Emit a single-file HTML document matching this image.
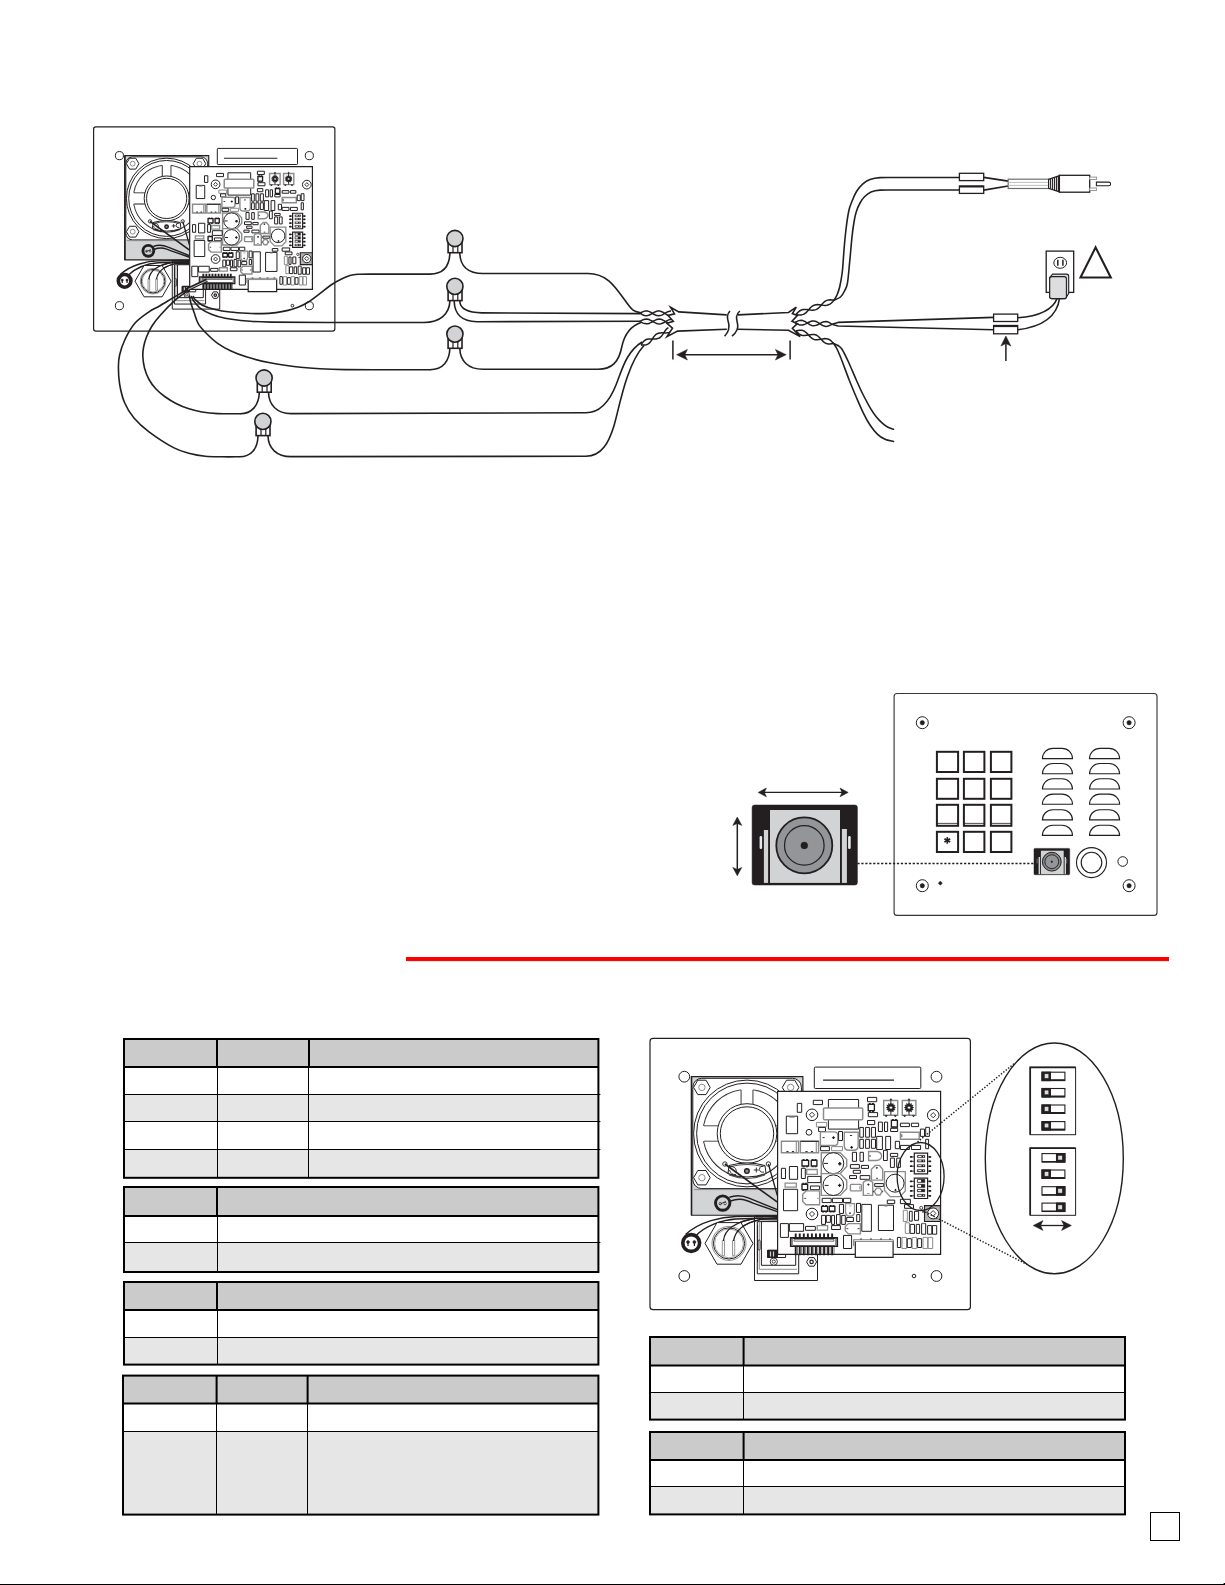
<!DOCTYPE html>
<html><head><meta charset="utf-8">
<style>
html,body{margin:0;padding:0;background:#fff;font-family:"Liberation Sans",sans-serif;}
body{width:1225px;height:1585px;overflow:hidden;position:relative;}
svg{position:absolute;left:0;top:0;}
.ns *{vector-effect:non-scaling-stroke;}
</style></head>
<body>
<svg width="1225" height="1585" viewBox="0 0 1225 1585">
<!-- ===== TABLES ===== -->
<g id="tables" stroke="#000" fill="none">
<rect x="124" y="1039" width="474.4" height="28" fill="#cbcbcb" stroke="none"/>
<rect x="124" y="1094.5" width="474.4" height="27.0" fill="#e6e6e6" stroke="none"/>
<rect x="124" y="1149.5" width="474.4" height="28.299999999999955" fill="#e6e6e6" stroke="none"/>
<path d="M124 1094.5H600.4" stroke-width="1"/>
<path d="M124 1121.5H600.4" stroke-width="1"/>
<path d="M124 1149.5H600.4" stroke-width="1"/>
<path d="M217.5 1067V1177.8" stroke-width="1"/>
<path d="M217 1039V1067" stroke-width="2"/>
<path d="M308.5 1067V1177.8" stroke-width="1"/>
<path d="M309 1039V1067" stroke-width="2"/>
<path d="M124 1067H598.4" stroke-width="2"/>
<rect x="124" y="1039" width="474.4" height="138.79999999999995" stroke-width="2"/>
<rect x="124" y="1187" width="474.4" height="29" fill="#cbcbcb" stroke="none"/>
<rect x="124" y="1242.5" width="474.4" height="29.5" fill="#e6e6e6" stroke="none"/>
<path d="M124 1242.5H600.4" stroke-width="1"/>
<path d="M217.5 1216V1272" stroke-width="1"/>
<path d="M217 1187V1216" stroke-width="2"/>
<path d="M124 1216H598.4" stroke-width="2"/>
<rect x="124" y="1187" width="474.4" height="85" stroke-width="2"/>
<rect x="124" y="1282" width="474.4" height="28" fill="#cbcbcb" stroke="none"/>
<rect x="124" y="1337.5" width="474.4" height="27.09999999999991" fill="#e6e6e6" stroke="none"/>
<path d="M124 1337.5H598.4" stroke-width="1"/>
<path d="M217.5 1310V1364.6" stroke-width="1"/>
<path d="M217 1282V1310" stroke-width="2"/>
<path d="M124 1310H598.4" stroke-width="2"/>
<rect x="124" y="1282" width="474.4" height="82.59999999999991" stroke-width="2"/>
<rect x="123" y="1375.6" width="475.4" height="27.800000000000182" fill="#cbcbcb" stroke="none"/>
<rect x="123" y="1431.5" width="475.4" height="83.09999999999991" fill="#e6e6e6" stroke="none"/>
<path d="M123 1431.5H598.4" stroke-width="1"/>
<path d="M216.5 1403.4V1514.6" stroke-width="1"/>
<path d="M216.6 1375.6V1403.4" stroke-width="2"/>
<path d="M307.5 1403.4V1514.6" stroke-width="1"/>
<path d="M307.6 1375.6V1403.4" stroke-width="2"/>
<path d="M123 1403.4H598.4" stroke-width="2"/>
<rect x="123" y="1375.6" width="475.4" height="139.0" stroke-width="2"/>
<rect x="650" y="1337" width="475" height="28.59999999999991" fill="#cbcbcb" stroke="none"/>
<rect x="650" y="1392.5" width="475" height="27.09999999999991" fill="#e6e6e6" stroke="none"/>
<path d="M650 1392.5H1125" stroke-width="1"/>
<path d="M743.5 1365.6V1419.6" stroke-width="1"/>
<path d="M743.6 1337V1365.6" stroke-width="2"/>
<path d="M650 1365.6H1125" stroke-width="2"/>
<rect x="650" y="1337" width="475" height="82.59999999999991" stroke-width="2"/>
<rect x="650" y="1432" width="475" height="28" fill="#cbcbcb" stroke="none"/>
<rect x="650" y="1486.5" width="475" height="27.90000000000009" fill="#e6e6e6" stroke="none"/>
<path d="M650 1486.5H1125" stroke-width="1"/>
<path d="M743.5 1460V1514.4" stroke-width="1"/>
<path d="M743.6 1432V1460" stroke-width="2"/>
<path d="M650 1460H1125" stroke-width="2"/>
<rect x="650" y="1432" width="475" height="82.40000000000009" stroke-width="2"/>
</g>
<!-- red rule -->
<rect x="406" y="957" width="763" height="4" fill="#ff0000"/>
<rect x="407" y="960.6" width="762" height="0.7" fill="#a33" opacity="0.6"/>
<!-- page number box -->
<rect x="1150.5" y="1512.5" width="29" height="28" fill="#fff" stroke="#000" stroke-width="1"/>
<!-- bottom line -->
<rect x="0" y="1584" width="1225" height="1" fill="#000"/>
<rect x="1223.6" y="1583" width="1.4" height="2" fill="#000"/>
<g transform="translate(93.6,126.8) scale(0.753) translate(-650,-1038.4)" class="ns">
<rect x="650.0" y="1038.4" width="320.4" height="271.3" fill="#fff" stroke="#231f20" stroke-width="1.2" rx="3"/>
<circle cx="684.3" cy="1076.7" r="5.4" fill="#fff" stroke="#231f20" stroke-width="1"/>
<circle cx="936.5" cy="1076.7" r="5.4" fill="#fff" stroke="#231f20" stroke-width="1"/>
<circle cx="684.3" cy="1276.0" r="5.4" fill="#fff" stroke="#231f20" stroke-width="1"/>
<circle cx="936.5" cy="1276.0" r="5.4" fill="#fff" stroke="#231f20" stroke-width="1"/>
<circle cx="914.0" cy="1276.0" r="1.8" fill="#fff" stroke="#231f20" stroke-width="1"/>
<rect x="814.3" y="1067.1" width="106.5" height="21.4" fill="#fff" stroke="#231f20" stroke-width="1" rx="1"/>
<path d="M823.1 1080.1H894" fill="none" stroke="#231f20" stroke-width="1.1" />
<rect x="691.5" y="1076.6" width="111.4" height="138.6" fill="#d3d4d5" stroke="#231f20" stroke-width="1.15"/>
<path d="M691.5 1076.6V1215.2" fill="none" stroke="#231f20" stroke-width="1.5" />
<rect x="692.8" y="1078.3" width="108.6" height="110.3" fill="#fff" stroke="#231f20" stroke-width="1" rx="9"/>
<path d="M694 1189.6H801" fill="none" stroke="#8a8c8e" stroke-width="1" />
<circle cx="747.0" cy="1133.5" r="53.4" fill="#fff" stroke="#231f20" stroke-width="1"/>
<circle cx="747.0" cy="1133.5" r="50.4" fill="#fff" stroke="#231f20" stroke-width="1"/>
<path d="M740.4 1090.5A43.5 43.5 0 0 0 704.3 1125.2L720.3 1125.2A28 28 0 0 1 740.4 1106.3Z" fill="#fff" stroke="#231f20" stroke-width="2.2" stroke-linejoin="round"/>
<path d="M740.4 1090.5A43.5 43.5 0 0 0 704.3 1125.2L720.3 1125.2A28 28 0 0 1 740.4 1106.3Z" fill="#fff" stroke="#fff" stroke-width="0.4" stroke-linejoin="round"/>
<path d="M740.4 1176.5A43.5 43.5 0 0 1 704.3 1141.8L720.3 1141.8A28 28 0 0 0 740.4 1160.7Z" fill="#fff" stroke="#231f20" stroke-width="2.2" stroke-linejoin="round"/>
<path d="M740.4 1176.5A43.5 43.5 0 0 1 704.3 1141.8L720.3 1141.8A28 28 0 0 0 740.4 1160.7Z" fill="#fff" stroke="#fff" stroke-width="0.4" stroke-linejoin="round"/>
<path d="M753.6 1090.5A43.5 43.5 0 0 1 789.7 1125.2L773.7 1125.2A28 28 0 0 0 753.6 1106.3Z" fill="#fff" stroke="#231f20" stroke-width="2.2" stroke-linejoin="round"/>
<path d="M753.6 1090.5A43.5 43.5 0 0 1 789.7 1125.2L773.7 1125.2A28 28 0 0 0 753.6 1106.3Z" fill="#fff" stroke="#fff" stroke-width="0.4" stroke-linejoin="round"/>
<path d="M753.6 1176.5A43.5 43.5 0 0 0 789.7 1141.8L773.7 1141.8A28 28 0 0 1 753.6 1160.7Z" fill="#fff" stroke="#231f20" stroke-width="2.2" stroke-linejoin="round"/>
<path d="M753.6 1176.5A43.5 43.5 0 0 0 789.7 1141.8L773.7 1141.8A28 28 0 0 1 753.6 1160.7Z" fill="#fff" stroke="#fff" stroke-width="0.4" stroke-linejoin="round"/>
<circle cx="747.0" cy="1133.5" r="29.8" fill="#fff" stroke="#231f20" stroke-width="1"/>
<circle cx="747.0" cy="1133.5" r="26.7" fill="#fff" stroke="#231f20" stroke-width="1"/>
<path d="M710.2 1087.4L706.0 1094.6L697.8 1094.6L693.6 1087.4L697.8 1080.2L706.0 1080.2Z" fill="#fff" stroke="#231f20" stroke-width="1" />
<circle cx="701.9" cy="1087.4" r="3.2" fill="#fff" stroke="#8a8c8e" stroke-width="1"/>
<path d="M798.9 1087.4L794.8 1094.6L786.5 1094.6L782.3 1087.4L786.5 1080.2L794.8 1080.2Z" fill="#fff" stroke="#231f20" stroke-width="1" />
<circle cx="790.6" cy="1087.4" r="3.2" fill="#fff" stroke="#8a8c8e" stroke-width="1"/>
<path d="M710.2 1177.7L706.0 1184.9L697.8 1184.9L693.6 1177.7L697.8 1170.5L706.0 1170.5Z" fill="#fff" stroke="#231f20" stroke-width="1" />
<circle cx="701.9" cy="1177.7" r="3.2" fill="#fff" stroke="#8a8c8e" stroke-width="1"/>
<path d="M729 1165.5Q747 1160.5 765 1165.5L766 1173.5Q747 1180.5 728 1173.5Z" fill="#fff" stroke="#231f20" stroke-width="1" />
<path d="M731 1166.5Q747 1162.5 763 1166.5" fill="none" stroke="#231f20" stroke-width="0.8" />
<path d="M729 1175Q747 1182 765 1175" fill="none" stroke="#231f20" stroke-width="0.8" />
<circle cx="724.9" cy="1164.0" r="2.2" fill="#fff" stroke="#231f20" stroke-width="0.9"/>
<circle cx="768.4" cy="1164.0" r="2.2" fill="#fff" stroke="#231f20" stroke-width="0.9"/>
<circle cx="746.9" cy="1171.1" r="2.3" fill="#8a8c8e" stroke="#231f20" stroke-width="1.4"/>
<path d="M753.8 1170H758.8M756.3 1167.5V1172.5" fill="none" stroke="#231f20" stroke-width="0.9" />
<path d="M729 1166.5Q735.5 1166 736.3 1170.5V1173M729.5 1170Q731 1175 736 1174.5" fill="none" stroke="#231f20" stroke-width="0.9" />
<path d="M764.5 1166Q759.5 1165.5 759.5 1169.5Q760 1173 764 1172" fill="none" stroke="#231f20" stroke-width="0.9" />
<path d="M724.9 1164L777.4 1202.2" fill="none" stroke="#231f20" stroke-width="1.6" />
<path d="M768.4 1164L777.4 1195.7" fill="none" stroke="#231f20" stroke-width="1.3" />
<path d="M729.4 1197.3C738 1194 744 1196 749 1198.2L777.4 1209.6" fill="none" stroke="#231f20" stroke-width="1.45" />
<path d="M730.6 1201C740 1197.5 746 1200 753.1 1203.1L777.4 1211.6" fill="none" stroke="#231f20" stroke-width="1.45" />
<circle cx="722.7" cy="1203.1" r="7.2" fill="#d3d4d5" stroke="#231f20" stroke-width="2.9"/>
<circle cx="720.3" cy="1203.6" r="1.2" fill="#fff" stroke="#231f20" stroke-width="0.8"/>
<circle cx="725.1" cy="1203.6" r="1.2" fill="#fff" stroke="#231f20" stroke-width="0.8"/>
<path d="M719.5 1204.5L725.8 1201.3" fill="none" stroke="#231f20" stroke-width="0.8" />
<rect x="754.5" y="1215.7" width="63.0" height="64.8" fill="#fff" stroke="#231f20" stroke-width="1"/>
<rect x="757.3" y="1221.6" width="41.4" height="52.2" fill="#fff" stroke="#231f20" stroke-width="1"/>
<path d="M759.3 1221.6V1269.3H797" fill="none" stroke="#8a8c8e" stroke-width="1" />
<rect x="761.4" y="1221.6" width="34.3" height="43.7" fill="#fff" stroke="#231f20" stroke-width="1"/>
<path d="M757.5 1225V1262" fill="none" stroke="#231f20" stroke-width="0.9" />
<rect x="758.0" y="1240.0" width="2.2" height="10.0" fill="#d3d4d5" stroke="#231f20" stroke-width="0.8" rx="1"/>
<path d="M685.5 1234.5C700 1221 722 1216.8 736 1216.5L777 1215.8" fill="none" stroke="#231f20" stroke-width="1.4" />
<path d="M695.5 1236C706 1225.5 722 1220 736 1219L777 1217.6" fill="none" stroke="#231f20" stroke-width="1.4" />
<path d="M723.4 1241C724.5 1229 736 1221.5 757 1218.2L777 1218.8" fill="none" stroke="#231f20" stroke-width="1.25" />
<path d="M733.6 1241C735 1229 746 1222.8 760 1219.6L777 1220" fill="none" stroke="#231f20" stroke-width="1.25" />
<path d="M756 1216.3H777.4M762 1218.6H777.4" fill="none" stroke="#231f20" stroke-width="1.3" />
<circle cx="691.2" cy="1243.0" r="8.4" fill="#fff" stroke="#231f20" stroke-width="3.6"/>
<circle cx="688.0" cy="1242.0" r="1.5" fill="#231f20" stroke="#231f20" stroke-width="0.5"/>
<circle cx="694.4" cy="1242.0" r="1.5" fill="#231f20" stroke="#231f20" stroke-width="0.5"/>
<path d="M688 1242V1246M694.4 1242V1246" fill="none" stroke="#231f20" stroke-width="1.2" />
<path d="M753.0 1243.4L741.0 1264.2L717.0 1264.2L705.0 1243.4L717.0 1222.6L741.0 1222.6Z" fill="#fff" stroke="#231f20" stroke-width="1" />
<circle cx="729.0" cy="1243.4" r="17.0" fill="#fff" stroke="#8a8c8e" stroke-width="1"/>
<circle cx="729.0" cy="1243.4" r="15.6" fill="#fff" stroke="#231f20" stroke-width="1"/>
<circle cx="729.0" cy="1243.4" r="14.4" fill="#fff" stroke="#8a8c8e" stroke-width="0.8"/>
<path d="M722.3 1255.6V1240.5Q723.4 1239 724.5 1240.5V1255.6Z" fill="#fff" stroke="#8a8c8e" stroke-width="0.9" />
<path d="M732.5 1255.6V1240.5Q733.6 1239 734.7 1240.5V1255.6Z" fill="#fff" stroke="#8a8c8e" stroke-width="0.9" />
<path d="M723.4 1241C724.5 1229 736 1221.5 757 1218.2" fill="none" stroke="#231f20" stroke-width="1.25" />
<path d="M733.6 1241C735 1229 746 1222.8 760 1219.6" fill="none" stroke="#231f20" stroke-width="1.25" />
<rect x="767.7" y="1250.3" width="17.9" height="7.2" fill="#fff" stroke="#231f20" stroke-width="1"/>
<rect x="767.7" y="1250.3" width="9.7" height="7.2" fill="#231f20" stroke="#231f20" stroke-width="1"/>
<path d="M770.5 1251.5V1256.5M773.5 1251.5V1256.5" fill="none" stroke="#d3d4d5" stroke-width="1.2" />
<circle cx="773.8" cy="1261.6" r="3.6" fill="#fff" stroke="#231f20" stroke-width="0.9"/>
<circle cx="773.8" cy="1261.6" r="1.6" fill="#fff" stroke="#231f20" stroke-width="0.8"/>
<path d="M816.6 1261.9L814.1 1266.2L809.1 1266.2L806.6 1261.9L809.1 1257.6L814.1 1257.6Z" fill="#fff" stroke="#231f20" stroke-width="1" />
<circle cx="811.6" cy="1261.9" r="1.7" fill="#fff" stroke="#231f20" stroke-width="1.2"/>
<rect x="777.6" y="1091.4" width="163.0" height="163.0" fill="#fff" stroke="#231f20" stroke-width="1.2"/>
<rect x="797.3" y="1103.4" width="4.4" height="8.9" fill="#fff" stroke="#231f20" stroke-width="1"/>
<rect x="813.3" y="1100.3" width="9.2" height="4.3" fill="#fff" stroke="#231f20" stroke-width="1"/>
<rect x="828.4" y="1099.5" width="30.2" height="29.6" fill="#fff" stroke="#231f20" stroke-width="1"/>
<rect x="823.5" y="1107.9" width="39.2" height="11.8" fill="#fff" stroke="#8a8c8e" stroke-width="1.5" rx="1"/>
<circle cx="812.0" cy="1114.8" r="5.8" fill="#fff" stroke="#231f20" stroke-width="1"/>
<path d="M809.4 1114.8L812.0 1112.2L814.6 1114.8L812.0 1117.4Z" fill="#fff" stroke="#231f20" stroke-width="0.9" />
<rect x="786.3" y="1116.2" width="11.3" height="17.5" fill="#fff" stroke="#231f20" stroke-width="1"/>
<path d="M789.5 1117.2H794.5" fill="none" stroke="#8a8c8e" stroke-width="1.2" />
<circle cx="809.0" cy="1132.3" r="2.9" fill="#fff" stroke="#231f20" stroke-width="1"/>
<rect x="816.4" y="1122.4" width="10.3" height="4.4" fill="#fff" stroke="#8a8c8e" stroke-width="1"/>
<rect x="818.6" y="1127.4" width="6.9" height="4.1" fill="#fff" stroke="#231f20" stroke-width="1"/>
<rect x="781.4" y="1141.3" width="17.2" height="11.5" fill="#fff" stroke="#8a8c8e" stroke-width="1.4"/>
<path d="M796.3 1141.3V1152.8" fill="none" stroke="#8a8c8e" stroke-width="1.1" />
<path d="M786.4 1151.6h2.2M791.9 1151.6h2.2" fill="none" stroke="#231f20" stroke-width="1.0" />
<rect x="800.4" y="1141.3" width="18.2" height="11.5" fill="#fff" stroke="#8a8c8e" stroke-width="1.4"/>
<path d="M816.3 1141.3V1152.8" fill="none" stroke="#8a8c8e" stroke-width="1.1" />
<path d="M805.4 1151.6h2.2M810.9 1151.6h2.2" fill="none" stroke="#231f20" stroke-width="1.0" />
<path d="M800.4 1141.3H818.6" fill="none" stroke="#231f20" stroke-width="1" />
<path d="M820.4 1131.9H834.3Q837.8 1131.9 837.8 1135.4V1141.9Q837.8 1145.4 834.3 1145.4H820.4Z" fill="#fff" stroke="#8a8c8e" stroke-width="1.4" />
<path d="M822.5 1137.6H824.7" fill="none" stroke="#231f20" stroke-width="0.9" />
<path d="M832.1 1137.6H834.9M833.5 1136.2V1139.0" fill="none" stroke="#231f20" stroke-width="1.1" />
<rect x="838.6" y="1131.5" width="3.9" height="9.0" fill="#fff" stroke="#231f20" stroke-width="1"/>
<path d="M844.3 1132.3H858.2V1145.5Q858.2 1150.3 853.5 1150.3H849Q844.3 1150.3 844.3 1145.5Z" fill="#fff" stroke="#8a8c8e" stroke-width="1.4" />
<path d="M849.9 1135.5H852.1" fill="none" stroke="#231f20" stroke-width="0.9" />
<path d="M850.3 1147.4H852.9M851.6 1146.1V1148.7" fill="none" stroke="#231f20" stroke-width="1.1" />
<rect x="820.6" y="1146.6" width="8.8" height="4.1" fill="#fff" stroke="#231f20" stroke-width="1"/>
<rect x="831.6" y="1146.6" width="10.9" height="4.1" fill="#fff" stroke="#8a8c8e" stroke-width="1"/>
<rect x="859.8" y="1127.4" width="3.6" height="9.8" fill="#fff" stroke="#231f20" stroke-width="1"/>
<rect x="859.8" y="1139.3" width="3.6" height="9.0" fill="#fff" stroke="#231f20" stroke-width="1"/>
<rect x="865.6" y="1127.4" width="3.8" height="9.8" fill="#fff" stroke="#231f20" stroke-width="1"/>
<rect x="865.6" y="1139.3" width="3.8" height="9.0" fill="#fff" stroke="#231f20" stroke-width="1"/>
<rect x="871.4" y="1127.4" width="4.1" height="9.8" fill="#fff" stroke="#231f20" stroke-width="1"/>
<rect x="871.4" y="1139.3" width="4.1" height="9.0" fill="#fff" stroke="#231f20" stroke-width="1"/>
<rect x="867.5" y="1097.4" width="9.2" height="4.3" fill="#fff" stroke="#231f20" stroke-width="1"/>
<rect x="868.2" y="1104.4" width="6.2" height="6.2" fill="#fff" stroke="#231f20" stroke-width="1.35"/>
<path d="M868.8 1103.6h2M868.8 1111.4h2" fill="none" stroke="#231f20" stroke-width="1.1" />
<path d="M871.9 1103.6h2M871.9 1111.4h2" fill="none" stroke="#231f20" stroke-width="1.1" />
<rect x="868.3" y="1112.6" width="9.3" height="4.1" fill="#fff" stroke="#231f20" stroke-width="1"/>
<rect x="867.5" y="1120.5" width="7.2" height="4.1" fill="#fff" stroke="#231f20" stroke-width="1"/>
<rect x="883.7" y="1100.5" width="14.0" height="14.7" fill="#fff" stroke="#8a8c8e" stroke-width="1.4"/>
<path d="M895.6 1107.6L894.1 1108.5L895.0 1109.9L893.2 1109.9L893.2 1111.7L891.8 1110.8L890.9 1112.3L890.0 1110.8L888.5 1111.7L888.6 1109.9L886.8 1109.9L887.7 1108.5L886.2 1107.6L887.7 1106.7L886.8 1105.2L888.6 1105.3L888.5 1103.5L890.0 1104.4L890.9 1102.9L891.8 1104.4L893.2 1103.5L893.2 1105.3L895.0 1105.2L894.1 1106.7Z" fill="#231f20" stroke="#231f20" stroke-width="0.6" />
<circle cx="890.9" cy="1107.6" r="1.6" fill="#fff" stroke="#231f20" stroke-width="0.6"/>
<path d="M890.9 1106.6V1099.6M889.7 1108.8L893.4 1111.4" fill="none" stroke="#231f20" stroke-width="0.9" />
<circle cx="890.9" cy="1099.4" r="0.7" fill="#231f20" stroke="#231f20" stroke-width="0.5"/>
<path d="M890.9 1111.6V1115.2" fill="none" stroke="#231f20" stroke-width="0.9" />
<path d="M884.9 1115.4l1.2 1.6l1.2 -1.6ZM894.1 1115.4l1.2 1.6l1.2 -1.6Z" fill="#231f20" stroke="#231f20" stroke-width="0.5" />
<rect x="902.3" y="1100.5" width="13.6" height="14.7" fill="#fff" stroke="#8a8c8e" stroke-width="1.4"/>
<path d="M913.7 1107.6L912.2 1108.5L913.1 1109.9L911.3 1109.9L911.4 1111.7L909.9 1110.8L909.0 1112.3L908.1 1110.8L906.6 1111.7L906.7 1109.9L904.9 1109.9L905.8 1108.5L904.3 1107.6L905.8 1106.7L904.9 1105.2L906.7 1105.3L906.6 1103.5L908.1 1104.4L909.0 1102.9L909.9 1104.4L911.4 1103.5L911.3 1105.3L913.1 1105.2L912.2 1106.7Z" fill="#231f20" stroke="#231f20" stroke-width="0.6" />
<circle cx="909.0" cy="1107.6" r="1.6" fill="#fff" stroke="#231f20" stroke-width="0.6"/>
<path d="M909.0 1106.6V1099.6M907.8 1108.8L911.5 1111.4" fill="none" stroke="#231f20" stroke-width="0.9" />
<circle cx="909.0" cy="1099.4" r="0.7" fill="#231f20" stroke="#231f20" stroke-width="0.5"/>
<path d="M909.0 1111.6V1115.2" fill="none" stroke="#231f20" stroke-width="0.9" />
<path d="M903.5 1115.4l1.2 1.6l1.2 -1.6ZM912.3 1115.4l1.2 1.6l1.2 -1.6Z" fill="#231f20" stroke="#231f20" stroke-width="0.5" />
<circle cx="933.2" cy="1115.2" r="5.8" fill="#fff" stroke="#231f20" stroke-width="1"/>
<path d="M930.6 1115.2L933.2 1112.6L935.8 1115.2L933.2 1117.8Z" fill="#fff" stroke="#231f20" stroke-width="0.9" />
<rect x="878.4" y="1122.1" width="4.0" height="9.4" fill="#fff" stroke="#231f20" stroke-width="1"/>
<rect x="884.5" y="1122.1" width="3.1" height="9.4" fill="#fff" stroke="#231f20" stroke-width="1"/>
<rect x="891.4" y="1120.4" width="6.0" height="6.6" fill="#fff" stroke="#231f20" stroke-width="1.35"/>
<path d="M891.9 1119.6h2M891.9 1127.8h2" fill="none" stroke="#231f20" stroke-width="1.1" />
<path d="M894.9 1119.6h2M894.9 1127.8h2" fill="none" stroke="#231f20" stroke-width="1.1" />
<rect x="890.6" y="1128.3" width="7.1" height="3.2" fill="#fff" stroke="#231f20" stroke-width="1"/>
<rect x="900.4" y="1123.2" width="9.0" height="3.4" fill="#fff" stroke="#231f20" stroke-width="1"/>
<rect x="911.4" y="1123.2" width="7.2" height="3.4" fill="#fff" stroke="#231f20" stroke-width="1"/>
<rect x="900.4" y="1132.3" width="18.8" height="7.0" fill="#fff" stroke="#8a8c8e" stroke-width="1.4"/>
<path d="M901.8 1134.2V1137.2" fill="none" stroke="#231f20" stroke-width="0.8" />
<rect x="920.4" y="1129.1" width="4.1" height="7.3" fill="#fff" stroke="#231f20" stroke-width="1"/>
<rect x="925.7" y="1127.3" width="3.7" height="9.1" fill="#fff" stroke="#231f20" stroke-width="1"/>
<rect x="925.7" y="1139.3" width="2.9" height="9.4" fill="#fff" stroke="#231f20" stroke-width="1"/>
<rect x="876.7" y="1136.4" width="5.7" height="13.1" fill="#fff" stroke="#231f20" stroke-width="1"/>
<rect x="885.7" y="1136.4" width="4.9" height="13.1" fill="#fff" stroke="#231f20" stroke-width="1"/>
<rect x="895.3" y="1141.3" width="4.3" height="7.4" fill="#fff" stroke="#231f20" stroke-width="1"/>
<rect x="900.4" y="1145.4" width="9.0" height="4.1" fill="#fff" stroke="#231f20" stroke-width="1"/>
<rect x="911.4" y="1145.4" width="9.2" height="4.1" fill="#fff" stroke="#231f20" stroke-width="1"/>
<path d="M868.6 1151.5H877Q881.6 1152.5 881.6 1156Q881.6 1159.5 877 1160.5H868.6Z" fill="#fff" stroke="#8a8c8e" stroke-width="1.4" />
<path d="M869 1156H871" fill="none" stroke="#231f20" stroke-width="0.8" />
<rect x="883.5" y="1150.3" width="3.8" height="10.2" fill="#fff" stroke="#231f20" stroke-width="1"/>
<rect x="890.4" y="1153.4" width="7.3" height="3.0" fill="#fff" stroke="#231f20" stroke-width="1"/>
<rect x="890.4" y="1158.1" width="4.0" height="9.3" fill="#fff" stroke="#231f20" stroke-width="1"/>
<rect x="896.7" y="1158.1" width="3.7" height="9.3" fill="#fff" stroke="#231f20" stroke-width="1"/>
<rect x="860.0" y="1152.3" width="3.4" height="9.0" fill="#fff" stroke="#231f20" stroke-width="1"/>
<rect x="852.4" y="1152.3" width="4.1" height="9.0" fill="#fff" stroke="#231f20" stroke-width="1"/>
<rect x="850.4" y="1164.6" width="9.0" height="3.7" fill="#fff" stroke="#231f20" stroke-width="1"/>
<rect x="861.4" y="1165.4" width="7.1" height="3.0" fill="#fff" stroke="#231f20" stroke-width="1"/>
<rect x="853.3" y="1170.3" width="7.1" height="3.0" fill="#fff" stroke="#231f20" stroke-width="1"/>
<rect x="849.6" y="1175.6" width="6.9" height="2.9" fill="#fff" stroke="#231f20" stroke-width="1"/>
<rect x="860.2" y="1175.6" width="9.6" height="3.7" fill="#fff" stroke="#231f20" stroke-width="1"/>
<path d="M875.3 1165.4H879.4L882.7 1169.3V1180.1H871.4V1169.3Z" fill="#fff" stroke="#8a8c8e" stroke-width="1.4" />
<path d="M875.8 1167.8H877.8M876.8 1166.8V1168.8" fill="none" stroke="#231f20" stroke-width="0.8" />
<path d="M876.0 1178.3H878.0" fill="none" stroke="#231f20" stroke-width="0.8" />
<path d="M821.3 1152.8H840.2L846.7 1159.3V1166.6L840.2 1173.6H821.3Z" fill="#fff" stroke="#8a8c8e" stroke-width="1.4" />
<circle cx="833.3" cy="1163.2" r="10.5" fill="#fff" stroke="#231f20" stroke-width="1"/>
<path d="M823.8 1163.4H828.0" fill="none" stroke="#231f20" stroke-width="1.0" />
<path d="M838.1 1163.8H841.5M839.8 1162.1V1165.5" fill="none" stroke="#231f20" stroke-width="1.5" />
<path d="M821.3 1173.6H840.2L846.7 1180.4V1188.6L840.2 1195.4H821.3Z" fill="#fff" stroke="#8a8c8e" stroke-width="1.4" />
<circle cx="833.3" cy="1185.2" r="10.3" fill="#fff" stroke="#231f20" stroke-width="1"/>
<path d="M824.6 1185.4H828.6" fill="none" stroke="#231f20" stroke-width="1.0" />
<path d="M837.9 1185.4H841.3M839.6 1183.7V1187.1" fill="none" stroke="#231f20" stroke-width="1.2" />
<rect x="802.0" y="1160.3" width="6.6" height="5.7" fill="#fff" stroke="#231f20" stroke-width="1.35"/>
<path d="M802.6 1159.5h2M802.6 1166.8h2" fill="none" stroke="#231f20" stroke-width="1.1" />
<path d="M806.0 1159.5h2M806.0 1166.8h2" fill="none" stroke="#231f20" stroke-width="1.1" />
<rect x="811.3" y="1160.3" width="5.6" height="5.7" fill="#fff" stroke="#231f20" stroke-width="1.35"/>
<path d="M811.7 1159.5h2M811.7 1166.8h2" fill="none" stroke="#231f20" stroke-width="1.1" />
<path d="M814.5 1159.5h2M814.5 1166.8h2" fill="none" stroke="#231f20" stroke-width="1.1" />
<rect x="781.4" y="1168.3" width="4.1" height="10.2" fill="#fff" stroke="#231f20" stroke-width="1"/>
<rect x="789.4" y="1166.5" width="8.2" height="12.8" fill="#fff" stroke="#231f20" stroke-width="1"/>
<rect x="801.4" y="1168.3" width="3.9" height="10.2" fill="#fff" stroke="#231f20" stroke-width="1"/>
<rect x="806.7" y="1169.5" width="10.6" height="4.9" fill="#fff" stroke="#8a8c8e" stroke-width="1.3"/>
<rect x="807.7" y="1176.4" width="13.1" height="6.2" fill="#fff" stroke="#231f20" stroke-width="1"/>
<rect x="785.1" y="1183.2" width="11.2" height="4.0" fill="#fff" stroke="#8a8c8e" stroke-width="1.3"/>
<rect x="783.5" y="1189.3" width="14.1" height="21.4" fill="#fff" stroke="#231f20" stroke-width="1"/>
<rect x="802.0" y="1184.2" width="5.6" height="5.4" fill="#fff" stroke="#231f20" stroke-width="1.35"/>
<path d="M802.4 1183.4h2M802.4 1190.4h2" fill="none" stroke="#231f20" stroke-width="1.1" />
<path d="M805.2 1183.4h2M805.2 1190.4h2" fill="none" stroke="#231f20" stroke-width="1.1" />
<rect x="810.4" y="1186.0" width="9.2" height="3.7" fill="#fff" stroke="#231f20" stroke-width="1"/>
<path d="M806 1190.9H819.6V1204.8H806L802.7 1201.5V1194.2Z" fill="#fff" stroke="#8a8c8e" stroke-width="1.4" />
<path d="M804.2 1198.4H806.2" fill="none" stroke="#231f20" stroke-width="0.8" />
<path d="M817 1198.4h1.6" fill="none" stroke="#8a8c8e" stroke-width="0.9" />
<rect x="822.2" y="1198.3" width="9.0" height="4.3" fill="#fff" stroke="#231f20" stroke-width="1"/>
<rect x="832.4" y="1198.3" width="10.1" height="4.3" fill="#fff" stroke="#231f20" stroke-width="1"/>
<rect x="843.5" y="1198.3" width="7.3" height="4.3" fill="#fff" stroke="#231f20" stroke-width="1"/>
<rect x="821.6" y="1206.3" width="6.0" height="4.9" fill="#fff" stroke="#231f20" stroke-width="1.35"/>
<path d="M822.1 1205.5h2M822.1 1212.0h2" fill="none" stroke="#231f20" stroke-width="1.1" />
<path d="M825.1 1205.5h2M825.1 1212.0h2" fill="none" stroke="#231f20" stroke-width="1.1" />
<rect x="829.3" y="1206.3" width="5.6" height="4.9" fill="#fff" stroke="#231f20" stroke-width="1.35"/>
<path d="M829.7 1205.5h2M829.7 1212.0h2" fill="none" stroke="#231f20" stroke-width="1.1" />
<path d="M832.5 1205.5h2M832.5 1212.0h2" fill="none" stroke="#231f20" stroke-width="1.1" />
<rect x="839.4" y="1204.4" width="4.1" height="9.0" fill="#fff" stroke="#231f20" stroke-width="1"/>
<path d="M845.5 1203.6H854.5V1211.5Q854.5 1216.2 850 1216.2Q845.5 1216.2 845.5 1211.5Z" fill="#fff" stroke="#8a8c8e" stroke-width="1.3" />
<path d="M849 1206h2.5" fill="none" stroke="#8a8c8e" stroke-width="0.8" />
<path d="M849.1 1213.2H850.9M850.0 1212.3V1214.1" fill="none" stroke="#231f20" stroke-width="0.8" />
<rect x="856.5" y="1203.4" width="4.1" height="9.0" fill="#fff" stroke="#231f20" stroke-width="1"/>
<rect x="856.7" y="1214.6" width="3.1" height="6.9" fill="#fff" stroke="#231f20" stroke-width="1"/>
<circle cx="812.0" cy="1214.0" r="5.8" fill="#fff" stroke="#231f20" stroke-width="1"/>
<path d="M809.4 1214.0L812.0 1211.4L814.6 1214.0L812.0 1216.6Z" fill="#fff" stroke="#231f20" stroke-width="0.9" />
<rect x="821.6" y="1215.4" width="3.9" height="9.0" fill="#fff" stroke="#231f20" stroke-width="1"/>
<rect x="826.3" y="1215.4" width="4.1" height="6.9" fill="#fff" stroke="#231f20" stroke-width="1"/>
<rect x="831.6" y="1215.4" width="2.9" height="9.0" fill="#fff" stroke="#231f20" stroke-width="1"/>
<rect x="836.5" y="1214.6" width="3.7" height="9.8" fill="#fff" stroke="#231f20" stroke-width="1"/>
<rect x="841.7" y="1215.4" width="3.6" height="9.0" fill="#fff" stroke="#231f20" stroke-width="1"/>
<rect x="846.7" y="1217.4" width="6.7" height="4.1" fill="#fff" stroke="#231f20" stroke-width="1"/>
<rect x="831.6" y="1225.6" width="8.8" height="3.9" fill="#fff" stroke="#231f20" stroke-width="1"/>
<path d="M848.5 1223.6H860.4V1233.9H848.5L845.3 1230.8V1226.5Z" fill="#fff" stroke="#8a8c8e" stroke-width="1.4" />
<path d="M846.3 1228.6H848.3" fill="none" stroke="#231f20" stroke-width="0.8" />
<path d="M857.5 1228.6H859.5" fill="none" stroke="#231f20" stroke-width="0.8" />
<rect x="780.4" y="1223.6" width="8.0" height="13.8" fill="#fff" stroke="#231f20" stroke-width="1"/>
<rect x="789.4" y="1223.6" width="14.2" height="7.7" fill="#fff" stroke="#231f20" stroke-width="1"/>
<rect x="805.5" y="1226.4" width="9.8" height="3.9" fill="#fff" stroke="#231f20" stroke-width="1"/>
<rect x="817.2" y="1225.6" width="10.4" height="4.5" fill="#fff" stroke="#8a8c8e" stroke-width="1.3"/>
<path d="M795.70 1233.6V1237.4M795.70 1246.8V1255.2" fill="none" stroke="#231f20" stroke-width="1.9" />
<path d="M797.60 1246.8V1254.4" fill="none" stroke="#231f20" stroke-width="0.6" />
<path d="M799.75 1233.6V1237.4M799.75 1246.8V1255.2" fill="none" stroke="#231f20" stroke-width="1.9" />
<path d="M801.65 1246.8V1254.4" fill="none" stroke="#231f20" stroke-width="0.6" />
<path d="M803.80 1233.6V1237.4M803.80 1246.8V1255.2" fill="none" stroke="#231f20" stroke-width="1.9" />
<path d="M805.70 1246.8V1254.4" fill="none" stroke="#231f20" stroke-width="0.6" />
<path d="M807.85 1233.6V1237.4M807.85 1246.8V1255.2" fill="none" stroke="#231f20" stroke-width="1.9" />
<path d="M809.75 1246.8V1254.4" fill="none" stroke="#231f20" stroke-width="0.6" />
<path d="M811.90 1233.6V1237.4M811.90 1246.8V1255.2" fill="none" stroke="#231f20" stroke-width="1.9" />
<path d="M813.80 1246.8V1254.4" fill="none" stroke="#231f20" stroke-width="0.6" />
<path d="M815.95 1233.6V1237.4M815.95 1246.8V1255.2" fill="none" stroke="#231f20" stroke-width="1.9" />
<path d="M817.85 1246.8V1254.4" fill="none" stroke="#231f20" stroke-width="0.6" />
<path d="M820.00 1233.6V1237.4M820.00 1246.8V1255.2" fill="none" stroke="#231f20" stroke-width="1.9" />
<path d="M821.90 1246.8V1254.4" fill="none" stroke="#231f20" stroke-width="0.6" />
<path d="M824.05 1233.6V1237.4M824.05 1246.8V1255.2" fill="none" stroke="#231f20" stroke-width="1.9" />
<path d="M825.95 1246.8V1254.4" fill="none" stroke="#231f20" stroke-width="0.6" />
<path d="M828.10 1233.6V1237.4M828.10 1246.8V1255.2" fill="none" stroke="#231f20" stroke-width="1.9" />
<path d="M830.00 1246.8V1254.4" fill="none" stroke="#231f20" stroke-width="0.6" />
<path d="M832.15 1233.6V1237.4M832.15 1246.8V1255.2" fill="none" stroke="#231f20" stroke-width="1.9" />
<path d="M834.05 1246.8V1254.4" fill="none" stroke="#231f20" stroke-width="0.6" />
<rect x="790.8" y="1238.0" width="46.4" height="8.2" fill="#fff" stroke="#231f20" stroke-width="1.8"/>
<rect x="794.0" y="1239.6" width="40.0" height="1.6" fill="#fff" stroke="#231f20" stroke-width="0.6"/>
<path d="M792.2 1238.5V1245.8M835.8 1238.5V1245.8" fill="none" stroke="#8a8c8e" stroke-width="1.6" />
<rect x="843.5" y="1235.4" width="8.1" height="13.1" fill="#fff" stroke="#231f20" stroke-width="1"/>
<rect x="855.3" y="1241.1" width="37.8" height="16.3" fill="#fff" stroke="#231f20" stroke-width="1.2"/>
<path d="M853.6 1246V1240H893.1" fill="none" stroke="#8a8c8e" stroke-width="1.2" />
<rect x="853.8" y="1239.6" width="39.3" height="1.7" fill="#fff" stroke="#8a8c8e" stroke-width="0.9"/>
<path d="M861 1238.6v1" fill="none" stroke="#231f20" stroke-width="1.6" />
<path d="M871 1238.6v1" fill="none" stroke="#231f20" stroke-width="1.6" />
<path d="M881 1238.6v1" fill="none" stroke="#231f20" stroke-width="1.6" />
<path d="M890 1238.6v1" fill="none" stroke="#231f20" stroke-width="1.6" />
<path d="M863.3 1182.3Q868 1178 872.7 1182.3V1195.4H863.3Z" fill="#fff" stroke="#8a8c8e" stroke-width="1.4" />
<path d="M867.3 1184.6H869.5M868.4 1183.5V1185.7" fill="none" stroke="#231f20" stroke-width="0.9" />
<path d="M867 1193.5h2.6" fill="none" stroke="#8a8c8e" stroke-width="0.8" />
<rect x="850.4" y="1184.4" width="11.0" height="6.5" fill="#fff" stroke="#8a8c8e" stroke-width="1.4" rx="1"/>
<path d="M859.8 1186v3.4" fill="none" stroke="#8a8c8e" stroke-width="0.9" />
<rect x="874.7" y="1183.6" width="9.0" height="2.8" fill="#fff" stroke="#231f20" stroke-width="1"/>
<path d="M876.5 1188.1H880L882 1191.5L880 1195H876.5L874.3 1191.5Z" fill="#fff" stroke="#8a8c8e" stroke-width="1.4" />
<path d="M874 1191.5h-0.8M882.3 1191.5h0.8" fill="none" stroke="#231f20" stroke-width="1.4" />
<path d="M884.5 1171.7H905.3V1190.9L900 1196.6H890.2L884.5 1190.5Z" fill="#fff" stroke="#8a8c8e" stroke-width="1.3" />
<circle cx="895.1" cy="1183.2" r="9.0" fill="#fff" stroke="#231f20" stroke-width="1"/>
<path d="M894.3 1190.1H896.7M895.5 1188.9V1191.3" fill="none" stroke="#231f20" stroke-width="0.9" />
<rect x="887.3" y="1200.1" width="7.4" height="3.5" fill="#fff" stroke="#231f20" stroke-width="1"/>
<rect x="900.4" y="1199.3" width="10.0" height="4.3" fill="#fff" stroke="#231f20" stroke-width="1"/>
<rect x="904.5" y="1204.6" width="9.0" height="3.7" fill="#fff" stroke="#231f20" stroke-width="1"/>
<rect x="861.8" y="1204.4" width="9.6" height="26.9" fill="#fff" stroke="#231f20" stroke-width="1"/>
<rect x="878.4" y="1205.2" width="15.1" height="25.3" fill="#fff" stroke="#231f20" stroke-width="1"/>
<path d="M884.5 1206h3" fill="none" stroke="#8a8c8e" stroke-width="1.2" />
<rect x="903.3" y="1210.3" width="4.0" height="11.2" fill="#fff" stroke="#8a8c8e" stroke-width="1"/>
<rect x="909.4" y="1211.3" width="2.8" height="9.8" fill="#fff" stroke="#231f20" stroke-width="1"/>
<rect x="914.5" y="1211.3" width="4.1" height="9.0" fill="#fff" stroke="#231f20" stroke-width="1"/>
<rect x="924.5" y="1205.6" width="15.9" height="15.9" fill="#b1b3b6" stroke="#231f20" stroke-width="1.1"/>
<circle cx="933.1" cy="1213.4" r="5.5" fill="#fff" stroke="#231f20" stroke-width="1"/>
<path d="M930.3 1213.4L933.1 1210.6L935.9 1213.4L933.1 1216.2Z" fill="#fff" stroke="#231f20" stroke-width="0.9" />
<circle cx="921.2" cy="1207.8" r="1.5" fill="#fff" stroke="#231f20" stroke-width="0.8"/>
<path d="M922.2 1212.0H923.8M923.0 1211.2V1212.8" fill="none" stroke="#231f20" stroke-width="0.7" />
<rect x="905.3" y="1222.8" width="4.1" height="10.6" fill="#fff" stroke="#8a8c8e" stroke-width="1"/>
<rect x="910.2" y="1224.4" width="4.3" height="9.0" fill="#fff" stroke="#231f20" stroke-width="1"/>
<rect x="916.3" y="1224.4" width="3.3" height="9.0" fill="#fff" stroke="#231f20" stroke-width="1"/>
<rect x="921.6" y="1223.6" width="4.1" height="10.6" fill="#fff" stroke="#231f20" stroke-width="1"/>
<path d="M922 1223.3h3.3" fill="none" stroke="#8a8c8e" stroke-width="0.9" />
<rect x="927.6" y="1225.6" width="4.2" height="8.6" fill="#fff" stroke="#231f20" stroke-width="1"/>
<rect x="932.5" y="1225.6" width="4.2" height="8.6" fill="#fff" stroke="#231f20" stroke-width="1"/>
<rect x="897.4" y="1237.4" width="3.3" height="10.1" fill="#fff" stroke="#231f20" stroke-width="1"/>
<rect x="902.0" y="1237.4" width="4.5" height="11.1" fill="#fff" stroke="#8a8c8e" stroke-width="1"/>
<rect x="907.3" y="1238.7" width="4.1" height="8.8" fill="#fff" stroke="#231f20" stroke-width="1"/>
<rect x="912.2" y="1237.4" width="4.5" height="11.1" fill="#fff" stroke="#8a8c8e" stroke-width="1"/>
<rect x="917.6" y="1238.7" width="4.0" height="8.8" fill="#fff" stroke="#231f20" stroke-width="1"/>
<rect x="923.0" y="1237.4" width="4.5" height="11.1" fill="#fff" stroke="#8a8c8e" stroke-width="1"/>
<rect x="928.2" y="1237.4" width="4.5" height="11.1" fill="#fff" stroke="#8a8c8e" stroke-width="1"/>
<path d="M910.9 1156.9H914.3M927.6 1156.9H930.8" fill="none" stroke="#231f20" stroke-width="0.8" />
<path d="M910.7 1156.9h0.9M929.5 1156.9h0.9" fill="none" stroke="#231f20" stroke-width="1.8" stroke-linecap="round"/>
<path d="M910.9 1161.3H914.3M927.6 1161.3H930.8" fill="none" stroke="#231f20" stroke-width="0.8" />
<path d="M910.7 1161.3h0.9M929.5 1161.3h0.9" fill="none" stroke="#231f20" stroke-width="1.8" stroke-linecap="round"/>
<path d="M910.9 1166.2H914.3M927.6 1166.2H930.8" fill="none" stroke="#231f20" stroke-width="0.8" />
<path d="M910.7 1166.2h0.9M929.5 1166.2h0.9" fill="none" stroke="#231f20" stroke-width="1.8" stroke-linecap="round"/>
<path d="M910.9 1171.1H914.3M927.6 1171.1H930.8" fill="none" stroke="#231f20" stroke-width="0.8" />
<path d="M910.7 1171.1h0.9M929.5 1171.1h0.9" fill="none" stroke="#231f20" stroke-width="1.8" stroke-linecap="round"/>
<rect x="914.3" y="1153.2" width="13.3" height="20.6" fill="#fff" stroke="#231f20" stroke-width="1.2"/>
<rect x="917.3" y="1155.3" width="7.6" height="2.4" fill="#231f20" stroke="#231f20" stroke-width="0.3"/>
<rect x="918.2" y="1156.0" width="3.3" height="1.1" fill="#fff" stroke="none" stroke-width="0"/>
<rect x="923.2" y="1156.0" width="0.9" height="1.1" fill="#fff" stroke="none" stroke-width="0"/>
<rect x="917.3" y="1159.7" width="7.6" height="2.4" fill="#231f20" stroke="#231f20" stroke-width="0.3"/>
<rect x="918.2" y="1160.3" width="3.3" height="1.1" fill="#fff" stroke="none" stroke-width="0"/>
<rect x="923.2" y="1160.3" width="0.9" height="1.1" fill="#fff" stroke="none" stroke-width="0"/>
<rect x="917.3" y="1164.6" width="7.6" height="2.4" fill="#231f20" stroke="#231f20" stroke-width="0.3"/>
<rect x="918.2" y="1165.2" width="3.3" height="1.1" fill="#fff" stroke="none" stroke-width="0"/>
<rect x="923.2" y="1165.2" width="0.9" height="1.1" fill="#fff" stroke="none" stroke-width="0"/>
<rect x="917.3" y="1169.5" width="7.6" height="2.4" fill="#231f20" stroke="#231f20" stroke-width="0.3"/>
<rect x="918.2" y="1170.1" width="3.3" height="1.1" fill="#fff" stroke="none" stroke-width="0"/>
<rect x="923.2" y="1170.1" width="0.9" height="1.1" fill="#fff" stroke="none" stroke-width="0"/>
<path d="M910.9 1181.3H914.3M927.6 1181.3H930.8" fill="none" stroke="#231f20" stroke-width="0.8" />
<path d="M910.7 1181.3h0.9M929.5 1181.3h0.9" fill="none" stroke="#231f20" stroke-width="1.8" stroke-linecap="round"/>
<path d="M910.9 1186.3H914.3M927.6 1186.3H930.8" fill="none" stroke="#231f20" stroke-width="0.8" />
<path d="M910.7 1186.3h0.9M929.5 1186.3h0.9" fill="none" stroke="#231f20" stroke-width="1.8" stroke-linecap="round"/>
<path d="M910.9 1190.9H914.3M927.6 1190.9H930.8" fill="none" stroke="#231f20" stroke-width="0.8" />
<path d="M910.7 1190.9h0.9M929.5 1190.9h0.9" fill="none" stroke="#231f20" stroke-width="1.8" stroke-linecap="round"/>
<path d="M910.9 1195.8H914.3M927.6 1195.8H930.8" fill="none" stroke="#231f20" stroke-width="0.8" />
<path d="M910.7 1195.8h0.9M929.5 1195.8h0.9" fill="none" stroke="#231f20" stroke-width="1.8" stroke-linecap="round"/>
<rect x="914.3" y="1178.2" width="13.3" height="20.3" fill="#fff" stroke="#231f20" stroke-width="1.2"/>
<rect x="917.3" y="1179.2" width="7.6" height="3.4" fill="#231f20" stroke="#231f20" stroke-width="0.3"/>
<rect x="918.0" y="1179.9" width="3.1" height="2.0" fill="#fff" stroke="none" stroke-width="0"/>
<rect x="917.3" y="1184.2" width="7.6" height="3.4" fill="#231f20" stroke="#231f20" stroke-width="0.3"/>
<rect x="918.0" y="1184.9" width="3.1" height="2.0" fill="#fff" stroke="none" stroke-width="0"/>
<rect x="917.3" y="1189.2" width="7.6" height="2.7" fill="#231f20" stroke="#231f20" stroke-width="0.3"/>
<rect x="918.0" y="1189.9" width="3.1" height="1.3" fill="#fff" stroke="none" stroke-width="0"/>
<rect x="917.3" y="1194.2" width="7.6" height="2.4" fill="#231f20" stroke="#231f20" stroke-width="0.3"/>
<rect x="918.2" y="1194.8" width="3.3" height="1.1" fill="#fff" stroke="none" stroke-width="0"/>
<rect x="923.2" y="1194.8" width="0.9" height="1.1" fill="#fff" stroke="none" stroke-width="0"/>
</g>

<path d="M207 280.2L186.5 289.8" fill="none" stroke="#231f20" stroke-width="3.6" />
<path d="M207 280.5L186.5 290.1" fill="none" stroke="#fff" stroke-width="0.7" />
<path d="M187.5 289.3C185.6 290.4 180.9 293.2 176.3 295.9C171.7 298.6 164.6 303.0 160.0 305.7C155.4 308.4 153.1 308.9 149.0 311.8C144.9 314.7 139.3 318.3 135.3 322.8C131.3 327.3 127.8 333.6 125.2 339.0C122.6 344.4 120.7 350.3 119.6 355.0C118.5 359.7 118.4 362.2 118.4 367.0C118.4 371.8 118.6 378.1 119.6 384.0C120.6 389.9 122.1 396.8 124.5 402.5C126.9 408.2 129.9 413.1 134.0 418.0C138.1 422.9 142.4 426.9 149.0 431.8C155.6 436.7 166.7 444.0 173.5 447.6C180.3 451.2 184.7 452.2 190.0 453.6C195.3 455.1 200.0 455.8 205.3 456.3C210.6 456.8 216.3 456.7 222.0 456.8C227.7 456.9 236.7 456.8 239.6 456.8" fill="none" stroke="#231f20" stroke-width="1.6" stroke-linecap="round"/>
<path d="M239.6 456.8C251 456.8 257.6 449 258 436" fill="none" stroke="#231f20" stroke-width="1.6" />
<path d="M187.5 290.9C185.6 292.3 180.7 295.3 176.3 299.2C171.9 303.1 165.2 309.8 161.2 314.3C157.1 318.8 154.4 322.2 152.0 326.0C149.6 329.8 147.9 333.5 146.5 337.0C145.1 340.5 144.2 343.8 143.6 347.0C143.0 350.2 142.7 352.5 142.8 356.0C143.0 359.5 143.5 364.1 144.5 368.0C145.5 371.9 147.1 376.0 149.0 379.5C150.9 383.0 153.4 386.2 156.0 389.0C158.6 391.8 161.4 394.1 164.7 396.5C168.0 398.9 172.1 401.5 176.0 403.5C179.9 405.5 183.9 407.2 188.2 408.6C192.5 410.0 197.1 411.2 202.0 412.0C206.9 412.8 211.3 413.3 217.6 413.6C223.9 413.9 236.3 413.8 240.0 413.8" fill="none" stroke="#231f20" stroke-width="1.6" stroke-linecap="round"/>
<path d="M240 413.8C252 413.8 259 405 259.3 392.6" fill="none" stroke="#231f20" stroke-width="1.6" />
<path d="M189.6 296.0C189.8 297.0 189.8 299.1 190.6 302.0C191.4 304.9 193.0 309.4 194.3 313.1C195.6 316.8 196.4 320.6 198.5 324.1C200.6 327.6 203.8 330.8 207.0 334.0C210.2 337.2 213.6 340.5 217.6 343.3C221.6 346.1 226.1 348.7 231.0 351.0C235.9 353.3 240.5 355.1 247.0 357.1C253.5 359.1 261.9 361.2 270.0 362.8C278.1 364.4 287.6 365.7 295.9 366.7C304.2 367.7 311.8 368.2 320.0 368.7C328.2 369.2 331.6 369.4 344.9 369.6C358.2 369.8 385.8 369.8 400.0 369.8C414.2 369.8 424.9 369.7 429.9 369.7" fill="none" stroke="#231f20" stroke-width="1.6" stroke-linecap="round"/>
<path d="M429.9 369.7C443 369.7 449.5 361 449.9 348.1" fill="none" stroke="#231f20" stroke-width="1.6" />
<path d="M191.6 296.5C191.8 297.1 191.5 298.0 193.0 300.0C194.5 302.0 197.6 306.2 200.8 308.6C204.0 311.0 207.9 312.9 212.0 314.5C216.1 316.1 219.5 317.2 225.3 318.3C231.1 319.4 239.3 320.4 247.0 321.0C254.7 321.6 255.9 321.9 271.4 322.1C286.9 322.4 314.6 322.4 340.0 322.5C365.4 322.6 410.0 322.5 424.0 322.5" fill="none" stroke="#231f20" stroke-width="1.6" stroke-linecap="round"/>
<path d="M424 322.5C440 322.5 449.5 314 449.9 301.1" fill="none" stroke="#231f20" stroke-width="1.6" />
<path d="M193.4 296.5C193.7 297.0 193.5 298.1 195.0 299.5C196.5 300.9 199.1 303.5 202.4 305.2C205.8 306.9 210.5 308.4 215.1 309.5C219.7 310.6 224.7 311.4 230.0 312.0C235.3 312.6 241.7 313.0 247.0 313.3C252.3 313.6 257.2 313.7 262.0 313.6C266.8 313.5 271.7 313.1 276.0 312.6C280.3 312.1 284.3 311.3 288.0 310.4C291.7 309.5 294.7 308.5 298.0 307.2C301.3 305.9 304.3 304.6 308.0 302.3C311.7 300.0 316.6 296.1 320.4 293.2C324.2 290.3 327.6 287.3 331.0 285.0C334.4 282.7 337.8 280.9 341.0 279.3C344.2 277.7 347.2 276.4 350.0 275.6C352.8 274.8 354.7 274.6 358.0 274.3C361.3 274.1 358.0 274.1 370.0 274.1C382.0 274.1 419.9 274.1 429.9 274.1" fill="none" stroke="#231f20" stroke-width="1.6" stroke-linecap="round"/>
<path d="M429.9 274.1C443 274.1 449.5 266 449.9 252.9" fill="none" stroke="#231f20" stroke-width="1.6" />
<path d="M459.8 252.9C460 266 468 273.5 483 273.5H588C606 273.5 614 285 624 299S634 311.6 642 313" fill="none" stroke="#231f20" stroke-width="1.6" />
<path d="M459.8 301.1C460 309 467 312.7 482 312.9L640 313.6" fill="none" stroke="#231f20" stroke-width="1.6" />
<path d="M454.2 301.1C454.4 314 462 321.7 476.9 321.7L640 321.2" fill="none" stroke="#231f20" stroke-width="1.6" />
<path d="M459.8 348.1C460 361 468 369.3 483 369.3H598C612 369.3 619 362 622 346C625 333 631 326 641 322.6" fill="none" stroke="#231f20" stroke-width="1.6" />
<path d="M268.5 392.6C268.8 405 277 413.6 291 413.6L586 412.8C600 412.8 610 400 616 385S626 352 642 342" fill="none" stroke="#231f20" stroke-width="1.6" />
<path d="M268 436C268.3 448 276.5 456.6 291 456.6L586 456.3C602 456.3 609 442 614 425.7S626 365 644 345.5" fill="none" stroke="#231f20" stroke-width="1.6" />
<rect x="448.1" y="241.5" width="13.9" height="11.2" fill="#fff" stroke="#231f20" stroke-width="1.6"/>
<path d="M453.0 241.5V252.7M457.8 241.5V252.7" fill="none" stroke="#231f20" stroke-width="1.2" />
<circle cx="454.9" cy="238.5" r="8.1" fill="#d1d3d4" stroke="#231f20" stroke-width="1.6"/>
<rect x="448.1" y="289.4" width="13.9" height="11.2" fill="#fff" stroke="#231f20" stroke-width="1.6"/>
<path d="M453.0 289.4V300.6M457.8 289.4V300.6" fill="none" stroke="#231f20" stroke-width="1.2" />
<circle cx="454.9" cy="286.4" r="8.1" fill="#d1d3d4" stroke="#231f20" stroke-width="1.6"/>
<rect x="448.1" y="337.1" width="13.9" height="11.2" fill="#fff" stroke="#231f20" stroke-width="1.6"/>
<path d="M453.0 337.1V348.3M457.8 337.1V348.3" fill="none" stroke="#231f20" stroke-width="1.2" />
<circle cx="454.9" cy="334.1" r="8.1" fill="#d1d3d4" stroke="#231f20" stroke-width="1.6"/>
<rect x="257.3" y="381.0" width="13.9" height="11.2" fill="#fff" stroke="#231f20" stroke-width="1.6"/>
<path d="M262.2 381.0V392.2M267.0 381.0V392.2" fill="none" stroke="#231f20" stroke-width="1.2" />
<circle cx="264.1" cy="378.0" r="8.1" fill="#d1d3d4" stroke="#231f20" stroke-width="1.6"/>
<rect x="256.1" y="424.4" width="13.9" height="11.2" fill="#fff" stroke="#231f20" stroke-width="1.6"/>
<path d="M261.0 424.4V435.6M265.8 424.4V435.6" fill="none" stroke="#231f20" stroke-width="1.2" />
<circle cx="262.9" cy="421.4" r="8.1" fill="#d1d3d4" stroke="#231f20" stroke-width="1.6"/>
<path d="M640.0 313.3L641.5 314.2L643.1 315.0L644.6 315.5L646.2 315.7L647.7 315.5L649.3 315.0L650.8 314.3L652.4 313.3L654.0 312.4L655.5 311.7L657.1 311.1L658.6 311.0L660.2 311.1L661.7 311.7L663.3 312.5L664.8 313.4L666.3 314.3L667.9 315.1L669.4 315.6L671.0 315.8" fill="none" stroke="#231f20" stroke-width="1.5" stroke-linejoin="round"/>
<path d="M640.0 313.3L641.6 312.4L643.1 311.6L644.7 311.1L646.2 310.9L647.8 311.1L649.3 311.6L650.9 312.4L652.4 313.3L653.9 314.3L655.5 315.0L657.0 315.6L658.6 315.8L660.1 315.6L661.7 315.1L663.2 314.3L664.8 313.4L666.4 312.5L667.9 311.7L669.5 311.2L671.0 311.0" fill="none" stroke="#231f20" stroke-width="1.5" stroke-linejoin="round"/>
<path d="M640.0 321.4L641.6 322.3L643.2 323.1L644.8 323.6L646.4 323.8L648.0 323.7L649.6 323.2L651.2 322.4L652.8 321.5L654.4 320.6L656.0 319.8L657.6 319.3L659.2 319.1L660.8 319.3L662.4 319.8L664.0 320.6L665.6 321.6L667.2 322.5L668.8 323.3L670.4 323.8L672.0 324.0" fill="none" stroke="#231f20" stroke-width="1.5" stroke-linejoin="round"/>
<path d="M640.0 321.4L641.6 320.5L643.2 319.7L644.8 319.2L646.4 319.0L648.0 319.2L649.6 319.8L651.2 320.6L652.8 321.5L654.4 322.4L656.0 323.2L657.6 323.7L659.2 323.9L660.8 323.7L662.4 323.2L664.0 322.5L665.6 321.6L667.2 320.7L668.8 319.9L670.4 319.4L672.0 319.2" fill="none" stroke="#231f20" stroke-width="1.5" stroke-linejoin="round"/>
<path d="M641.0 345.0L642.9 345.1L644.6 345.0L646.3 344.7L647.8 344.1L649.2 343.2L650.3 341.9L651.4 340.5L652.4 338.9L653.4 337.3L654.5 335.9L655.6 334.7L657.0 333.8L658.5 333.2L660.2 332.9L661.9 332.8L663.8 332.8L665.7 332.9L667.4 332.8L669.1 332.5L670.6 331.9" fill="none" stroke="#231f20" stroke-width="1.5" stroke-linejoin="round"/>
<path d="M641.0 345.0L642.0 343.4L643.1 342.0L644.2 340.8L645.6 339.8L647.1 339.2L648.8 338.9L650.5 338.9L652.4 338.9L654.3 339.0L656.0 338.9L657.7 338.6L659.2 338.0L660.6 337.1L661.7 335.9L662.8 334.4L663.8 332.8L664.8 331.3L665.9 329.8L667.0 328.6L668.4 327.7" fill="none" stroke="#231f20" stroke-width="1.5" stroke-linejoin="round"/>
<path d="M726.8 314.9L678.8 311.9L670.5 307.2L674.5 313.9L668 315.5L673.3 321.3L667 323.3L672.5 328.2L667 336.6L677.5 331.1L726.8 329.2" fill="#fff" stroke="#231f20" stroke-width="1.6" stroke-linejoin="miter"/>
<path d="M738 314.9L788.5 312.5L796.3 307.2L792.4 313.5L797.3 315.5L792 321.3L797.3 323.7L792.4 328.2L800.2 336.6L788.5 330.2L737.6 329.2" fill="#fff" stroke="#231f20" stroke-width="1.6" stroke-linejoin="miter"/>
<path d="M730 311C726 315 727.6 319 728.6 323S728.5 332 724.6 336.2" fill="none" stroke="#231f20" stroke-width="1.6" />
<path d="M739.8 311C735 315 736.6 319.5 737.6 324S737 332 732 336.2" fill="none" stroke="#231f20" stroke-width="1.6" />
<path d="M796.0 314.6L797.9 314.9L799.8 315.0L801.5 314.9L803.2 314.4L804.7 313.7L806.1 312.6L807.4 311.3L808.7 309.8L809.9 308.3L811.2 307.0L812.6 305.9L814.1 305.2L815.8 304.7L817.6 304.6L819.4 304.7L821.3 305.0L823.2 305.3L825.1 305.4L826.9 305.3L828.5 304.8L830.0 304.1L831.4 303.0L832.7 301.7L834.0 300.2" fill="none" stroke="#231f20" stroke-width="1.5" stroke-linejoin="round"/>
<path d="M796.0 314.6L797.3 313.1L798.6 311.8L800.0 310.7L801.5 310.0L803.1 309.5L804.9 309.4L806.8 309.5L808.7 309.8L810.6 310.1L812.4 310.2L814.2 310.1L815.9 309.6L817.4 308.9L818.8 307.8L820.1 306.5L821.3 305.0L822.6 303.5L823.9 302.2L825.3 301.1L826.8 300.4L828.5 299.9L830.2 299.8L832.1 299.9L834.0 300.2" fill="none" stroke="#231f20" stroke-width="1.5" stroke-linejoin="round"/>
<path d="M795.0 322.4L796.5 323.4L798.0 324.3L799.5 324.9L801.0 325.1L802.6 325.0L804.2 324.6L805.7 323.9L807.3 323.0L808.9 322.2L810.5 321.5L812.1 321.1L813.6 321.0L815.2 321.2L816.7 321.8L818.2 322.7L819.7 323.7L821.2 324.7L822.7 325.5L824.2 326.1L825.7 326.4L827.3 326.3L828.8 325.8L830.4 325.1L832.0 324.3" fill="none" stroke="#231f20" stroke-width="1.5" stroke-linejoin="round"/>
<path d="M795.0 322.4L796.6 321.6L798.2 320.9L799.7 320.4L801.3 320.3L802.8 320.6L804.3 321.2L805.8 322.0L807.3 323.0L808.8 324.0L810.3 324.9L811.8 325.5L813.4 325.7L814.9 325.6L816.5 325.2L818.1 324.5L819.7 323.7L821.3 322.8L822.8 322.1L824.4 321.7L826.0 321.6L827.5 321.8L829.0 322.4L830.5 323.3L832.0 324.3" fill="none" stroke="#231f20" stroke-width="1.5" stroke-linejoin="round"/>
<path d="M796.0 330.8L797.3 332.2L798.6 333.5L800.0 334.5L801.5 335.2L803.1 335.5L804.8 335.6L806.6 335.3L808.5 335.0L810.4 334.7L812.2 334.4L813.9 334.5L815.5 334.8L817.0 335.5L818.4 336.5L819.7 337.8L821.0 339.2L822.3 340.6L823.6 341.9L825.0 342.9L826.5 343.6L828.1 343.9L829.8 344.0L831.6 343.7L833.5 343.4" fill="none" stroke="#231f20" stroke-width="1.5" stroke-linejoin="round"/>
<path d="M796.0 330.8L797.9 330.5L799.7 330.2L801.4 330.3L803.0 330.6L804.5 331.3L805.9 332.3L807.2 333.6L808.5 335.0L809.8 336.4L811.1 337.7L812.5 338.7L814.0 339.4L815.6 339.7L817.3 339.8L819.1 339.5L821.0 339.2L822.9 338.9L824.7 338.6L826.4 338.7L828.0 339.0L829.5 339.7L830.9 340.7L832.2 342.0L833.5 343.4" fill="none" stroke="#231f20" stroke-width="1.5" stroke-linejoin="round"/>
<path d="M672.9 340.4V359.6M790.1 340.4V359.6" fill="none" stroke="#231f20" stroke-width="1.5" />
<path d="M684 354.7H779" fill="none" stroke="#231f20" stroke-width="1.5" />
<path d="M676.6 354.7L687.4 349.4L684.8 354.7L687.4 360ZM786.2 354.7L775.4 349.4L778 354.7L775.4 360Z" fill="#231f20" stroke="#231f20" stroke-width="0.5" />
<path d="M834.0 300.2C834.5 299.3 836.0 297.3 837.0 295.0C838.0 292.7 838.9 290.5 839.8 286.5C840.7 282.5 841.6 277.7 842.4 271.0C843.1 264.3 843.6 253.9 844.3 246.2C845.0 238.4 845.8 230.5 846.6 224.5C847.4 218.5 848.1 213.9 849.0 210.0C849.9 206.1 850.8 204.3 852.0 201.2C853.2 198.1 854.7 194.4 856.5 191.5C858.3 188.6 860.6 185.8 862.9 183.8C865.1 181.8 867.1 180.5 870.0 179.5C872.9 178.5 875.0 177.9 880.0 177.6C885.0 177.3 886.8 177.5 900.0 177.5C913.2 177.5 949.5 177.5 959.4 177.5" fill="none" stroke="#231f20" stroke-width="1.6" stroke-linecap="round"/>
<path d="M834.0 300.2C835.1 299.7 838.8 298.5 840.5 297.0C842.2 295.5 843.4 293.3 844.5 291.0C845.6 288.7 846.5 288.3 847.4 283.4C848.3 278.5 848.9 269.4 849.7 261.7C850.5 253.9 851.3 243.5 852.0 236.9C852.7 230.3 853.3 226.2 854.0 222.0C854.7 217.8 855.2 215.2 856.2 212.0C857.2 208.8 858.6 205.5 860.0 203.0C861.4 200.5 862.7 198.6 864.5 196.8C866.3 195.0 868.4 193.1 871.0 192.0C873.6 190.9 875.2 190.4 880.0 190.1C884.8 189.8 886.8 190.0 900.0 190.0C913.2 190.0 949.5 190.0 959.4 190.0" fill="none" stroke="#231f20" stroke-width="1.6" stroke-linecap="round"/>
<rect x="959.4" y="173.3" width="24.3" height="7.3" fill="#fff" stroke="#231f20" stroke-width="1.3"/>
<rect x="959.4" y="186.0" width="24.3" height="7.4" fill="#fff" stroke="#231f20" stroke-width="1.3"/>
<path d="M959.4 186.6H983.7" fill="none" stroke="#231f20" stroke-width="1.8" />
<path d="M983.7 177.4L1008.2 181.2M983.7 190.2L1008.2 186" fill="none" stroke="#231f20" stroke-width="1.7" />
<rect x="1008.2" y="179.2" width="40.4" height="9.3" fill="#fff" stroke="#6d6e71" stroke-width="1.2"/>
<path d="M1008.6 182.4H1048M1008.6 185.4H1048" fill="none" stroke="#bcbec0" stroke-width="1" />
<path d="M1048.6 179.4L1059.4 175.6V191.9L1048.6 188.3Z" fill="#fff" stroke="#231f20" stroke-width="1.2" />
<path d="M1050.6 179V188.8M1052.6 178.2V189.6M1054.6 177.5V190.3M1056.6 176.8V191M1058.4 176.2V191.6" fill="none" stroke="#231f20" stroke-width="1.1" />
<rect x="1059.4" y="175.3" width="30.3" height="16.9" fill="#fff" stroke="#231f20" stroke-width="1.3"/>
<rect x="1089.7" y="177.1" width="6.7" height="2.5" fill="#fff" stroke="#8a8c8e" stroke-width="0.9"/>
<rect x="1089.7" y="188.0" width="6.7" height="2.6" fill="#fff" stroke="#8a8c8e" stroke-width="0.9"/>
<path d="M1096.4 182.1H1108.8Q1110.6 182.1 1110.6 183.9Q1110.6 185.7 1108.8 185.7H1096.4Z" fill="#fff" stroke="#231f20" stroke-width="1.1" />
<rect x="1046.2" y="251.1" width="27.5" height="41.3" fill="#fff" stroke="#231f20" stroke-width="1.3"/>
<ellipse cx="1060.2" cy="262.8" rx="6.4" ry="5.5" fill="#fff" stroke="#231f20" stroke-width="1"/>
<path d="M1057.8 259.8V265.8M1062.9 259.8V265.8" fill="none" stroke="#231f20" stroke-width="1.5" />
<path d="M832 324.3L838 322.4L993.6 317.4M832 324.3L838 326L993.6 329.8" fill="none" stroke="#231f20" stroke-width="1.6" stroke-linejoin="round"/>
<path d="M1017.7 317.7C1036 316.5 1052 312 1057.3 298" fill="none" stroke="#231f20" stroke-width="1.6" />
<path d="M1017.7 329.8C1040 327 1057 318 1059.6 298" fill="none" stroke="#231f20" stroke-width="1.6" />
<rect x="993.6" y="314.1" width="24.1" height="7.4" fill="#fff" stroke="#231f20" stroke-width="1.3"/>
<rect x="993.6" y="325.5" width="24.1" height="8.3" fill="#fff" stroke="#231f20" stroke-width="1.3"/>
<path d="M993.6 326.2H1017.7" fill="none" stroke="#231f20" stroke-width="1.8" />
<path d="M1052.5 274.1H1066.5Q1068.7 274.1 1068.7 276.3V293.5L1065.5 298.6H1052Q1049.7 298.6 1049.7 296.3V277.5Z" fill="#dcddde" stroke="#231f20" stroke-width="1.1" stroke-linejoin="round"/>
<rect x="1049.7" y="276.6" width="16.7" height="22.0" fill="#dcddde" stroke="#231f20" stroke-width="1.1" rx="2.2"/>
<path d="M1005.9 361V343" fill="none" stroke="#231f20" stroke-width="1.5" />
<path d="M1005.9 336L1000.9 346L1005.9 343.6L1010.9 346Z" fill="#231f20" stroke="#231f20" stroke-width="0.5" />
<path d="M1095.6 247.4L1110.8 277.5H1080.5Z" fill="none" stroke="#231f20" stroke-width="2.1" />
<path d="M833.5 343.4C834.2 343.8 836.6 344.5 838.0 345.5C839.4 346.5 840.3 346.6 842.0 349.2C843.7 351.8 845.6 355.9 848.0 361.0C850.4 366.1 853.8 374.4 856.3 380.0C858.8 385.6 860.6 389.8 863.0 394.5C865.4 399.2 868.3 404.7 870.5 408.4C872.7 412.1 874.0 414.0 876.0 416.5C878.0 419.0 880.3 421.4 882.3 423.2C884.3 425.0 886.1 426.3 888.0 427.3C889.9 428.3 892.6 428.9 893.5 429.2" fill="none" stroke="#231f20" stroke-width="1.6" stroke-linecap="round"/>
<path d="M833.5 343.4C834.0 344.2 835.3 345.7 836.5 348.0C837.7 350.3 838.4 351.7 840.5 357.0C842.6 362.3 846.6 373.4 849.2 380.0C851.8 386.6 853.6 391.0 856.0 396.5C858.4 402.0 861.1 408.4 863.4 413.1C865.7 417.9 867.6 421.4 870.0 425.0C872.4 428.6 875.1 432.0 877.6 434.4C880.1 436.8 882.4 438.1 885.0 439.3C887.6 440.5 892.1 441.1 893.5 441.5" fill="none" stroke="#231f20" stroke-width="1.6" stroke-linecap="round"/>
<rect x="894.1" y="693.5" width="262.9" height="221.9" fill="#fff" stroke="#3a3637" stroke-width="1.15" rx="3"/>
<circle cx="922.3" cy="722.7" r="6.0" fill="#fff" stroke="#231f20" stroke-width="1"/>
<circle cx="922.3" cy="722.7" r="2.2" fill="#231f20" stroke="#231f20" stroke-width="0.5"/>
<circle cx="1129.1" cy="722.7" r="6.0" fill="#fff" stroke="#231f20" stroke-width="1"/>
<circle cx="1129.1" cy="722.7" r="2.2" fill="#231f20" stroke="#231f20" stroke-width="0.5"/>
<circle cx="922.3" cy="885.7" r="6.0" fill="#fff" stroke="#231f20" stroke-width="1"/>
<circle cx="922.3" cy="885.7" r="2.2" fill="#231f20" stroke="#231f20" stroke-width="0.5"/>
<circle cx="1129.1" cy="885.7" r="6.0" fill="#fff" stroke="#231f20" stroke-width="1"/>
<circle cx="1129.1" cy="885.7" r="2.2" fill="#231f20" stroke="#231f20" stroke-width="0.5"/>
<path d="M940.3 881.1L942.4 883.2L940.3 885.3L938.2 883.2Z" fill="#231f20" stroke="#231f20" stroke-width="0.4" />
<rect x="936.9" y="751.8" width="21.2" height="20.2" fill="#fff" stroke="#231f20" stroke-width="2.0"/>
<rect x="963.9" y="751.8" width="20.5" height="20.2" fill="#fff" stroke="#231f20" stroke-width="2.0"/>
<rect x="990.9" y="751.8" width="20.5" height="20.2" fill="#fff" stroke="#231f20" stroke-width="2.0"/>
<rect x="936.9" y="778.8" width="21.2" height="20.0" fill="#fff" stroke="#231f20" stroke-width="2.0"/>
<rect x="963.9" y="778.8" width="20.5" height="20.0" fill="#fff" stroke="#231f20" stroke-width="2.0"/>
<rect x="990.9" y="778.8" width="20.5" height="20.0" fill="#fff" stroke="#231f20" stroke-width="2.0"/>
<rect x="936.9" y="804.8" width="21.2" height="21.0" fill="#fff" stroke="#231f20" stroke-width="2.0"/>
<path d="M936.9 823.4H958.1" fill="none" stroke="#231f20" stroke-width="0.8" />
<rect x="963.9" y="804.8" width="20.5" height="21.0" fill="#fff" stroke="#231f20" stroke-width="2.0"/>
<path d="M963.9 823.4H984.4" fill="none" stroke="#231f20" stroke-width="0.8" />
<rect x="990.9" y="804.8" width="20.5" height="21.0" fill="#fff" stroke="#231f20" stroke-width="2.0"/>
<path d="M990.9 823.4H1011.4" fill="none" stroke="#231f20" stroke-width="0.8" />
<rect x="936.9" y="831.8" width="21.2" height="20.2" fill="#fff" stroke="#231f20" stroke-width="2.0"/>
<rect x="963.9" y="831.8" width="20.5" height="20.2" fill="#fff" stroke="#231f20" stroke-width="2.0"/>
<rect x="990.9" y="831.8" width="20.5" height="20.2" fill="#fff" stroke="#231f20" stroke-width="2.0"/>
<path d="M947.3 837.1L947.3 843.7" fill="none" stroke="#231f20" stroke-width="1.7" />
<path d="M944.4 838.8L950.2 842.0" fill="none" stroke="#231f20" stroke-width="1.7" />
<path d="M950.2 838.8L944.4 842.0" fill="none" stroke="#231f20" stroke-width="1.7" />
<path d="M1042.4 758.6C1042.4 753.1 1046.9 748.4 1052.9 748.4H1062.0C1068.0 748.4 1072.5 753.1 1072.5 758.6Z" fill="#fff" stroke="#231f20" stroke-width="1.1" />
<path d="M1042.4 773.7C1042.4 768.2 1046.9 763.5 1052.9 763.5H1062.0C1068.0 763.5 1072.5 768.2 1072.5 773.7Z" fill="#fff" stroke="#231f20" stroke-width="1.1" />
<path d="M1042.4 789.0C1042.4 783.5 1046.9 778.8 1052.9 778.8H1062.0C1068.0 778.8 1072.5 783.5 1072.5 789.0Z" fill="#fff" stroke="#231f20" stroke-width="1.1" />
<path d="M1042.4 804.3C1042.4 798.8 1046.9 794.1 1052.9 794.1H1062.0C1068.0 794.1 1072.5 798.8 1072.5 804.3Z" fill="#fff" stroke="#231f20" stroke-width="1.1" />
<path d="M1042.4 819.9C1042.4 814.4 1046.9 809.7 1052.9 809.7H1062.0C1068.0 809.7 1072.5 814.4 1072.5 819.9Z" fill="#fff" stroke="#231f20" stroke-width="1.1" />
<path d="M1042.4 835.4C1042.4 829.9 1046.9 825.2 1052.9 825.2H1062.0C1068.0 825.2 1072.5 829.9 1072.5 835.4Z" fill="#fff" stroke="#231f20" stroke-width="1.1" />
<path d="M1089.5 758.6C1089.5 753.1 1094.0 748.4 1100.0 748.4H1109.1C1115.1 748.4 1119.6 753.1 1119.6 758.6Z" fill="#fff" stroke="#231f20" stroke-width="1.1" />
<path d="M1089.5 773.7C1089.5 768.2 1094.0 763.5 1100.0 763.5H1109.1C1115.1 763.5 1119.6 768.2 1119.6 773.7Z" fill="#fff" stroke="#231f20" stroke-width="1.1" />
<path d="M1089.5 789.0C1089.5 783.5 1094.0 778.8 1100.0 778.8H1109.1C1115.1 778.8 1119.6 783.5 1119.6 789.0Z" fill="#fff" stroke="#231f20" stroke-width="1.1" />
<path d="M1089.5 804.3C1089.5 798.8 1094.0 794.1 1100.0 794.1H1109.1C1115.1 794.1 1119.6 798.8 1119.6 804.3Z" fill="#fff" stroke="#231f20" stroke-width="1.1" />
<path d="M1089.5 819.9C1089.5 814.4 1094.0 809.7 1100.0 809.7H1109.1C1115.1 809.7 1119.6 814.4 1119.6 819.9Z" fill="#fff" stroke="#231f20" stroke-width="1.1" />
<path d="M1089.5 835.4C1089.5 829.9 1094.0 825.2 1100.0 825.2H1109.1C1115.1 825.2 1119.6 829.9 1119.6 835.4Z" fill="#fff" stroke="#231f20" stroke-width="1.1" />
<path d="M857.4 863.5H1034" fill="none" stroke="#231f20" stroke-width="1.3" stroke-dasharray="2.2 1.75"/>
<rect x="1034.0" y="848.4" width="35.7" height="26.3" fill="#231f20" stroke="#231f20" stroke-width="0.5" rx="1"/>
<rect x="1040.9" y="850.7" width="22.8" height="23.5" fill="#d1d3d4" stroke="none" stroke-width="0"/>
<rect x="1038.6" y="857.0" width="1.4" height="17.2" fill="#d1d3d4" stroke="none" stroke-width="0"/>
<rect x="1064.6" y="857.0" width="1.4" height="17.2" fill="#d1d3d4" stroke="none" stroke-width="0"/>
<circle cx="1051.8" cy="861.7" r="9.4" fill="#85878a" stroke="#231f20" stroke-width="1.0"/>
<circle cx="1051.8" cy="861.7" r="6.9" fill="#939598" stroke="#231f20" stroke-width="0.9"/>
<circle cx="1051.8" cy="861.7" r="0.9" fill="#231f20" stroke="#231f20" stroke-width="0.3"/>
<rect x="1036.6" y="858.5" width="1.0" height="5.0" fill="#6d6e71" stroke="none" stroke-width="0" rx="0.5"/>
<rect x="1066.2" y="858.5" width="1.0" height="5.0" fill="#6d6e71" stroke="none" stroke-width="0" rx="0.5"/>
<circle cx="1091.5" cy="862.6" r="15.0" fill="#fff" stroke="#231f20" stroke-width="1.1"/>
<circle cx="1091.5" cy="862.6" r="10.3" fill="#fff" stroke="#231f20" stroke-width="1.1"/>
<circle cx="1122.7" cy="861.5" r="4.8" fill="#fff" stroke="#231f20" stroke-width="1"/>
<rect x="752.1" y="805.0" width="105.3" height="80.0" fill="#231f20" stroke="#231f20" stroke-width="0.5" rx="2.5"/>
<rect x="770.0" y="810.0" width="70.0" height="72.9" fill="#d1d3d4" stroke="none" stroke-width="0"/>
<rect x="763.9" y="830.0" width="4.2" height="52.9" fill="#d1d3d4" stroke="none" stroke-width="0"/>
<rect x="841.9" y="829.0" width="5.0" height="53.9" fill="#d1d3d4" stroke="none" stroke-width="0"/>
<rect x="759.6" y="836.0" width="2.5" height="12.9" fill="#e6e7e8" stroke="none" stroke-width="0" rx="1.2"/>
<rect x="848.1" y="836.0" width="2.6" height="12.9" fill="#e6e7e8" stroke="none" stroke-width="0" rx="1.2"/>
<circle cx="804.3" cy="845.4" r="28.0" fill="#939598" stroke="#231f20" stroke-width="1.8"/>
<circle cx="804.3" cy="845.4" r="19.8" fill="#939598" stroke="#231f20" stroke-width="1.2"/>
<circle cx="804.3" cy="845.4" r="3.5" fill="#231f20" stroke="#231f20" stroke-width="0.3"/>
<path d="M764 792.4H842" fill="none" stroke="#231f20" stroke-width="1.3" />
<path d="M758.2 792.4L766.4 788L764.4 792.4L766.4 796.8ZM848.2 792.4L840 788L842 792.4L840 796.8Z" fill="#231f20" stroke="#231f20" stroke-width="0.5" />
<path d="M737.3 823V870" fill="none" stroke="#231f20" stroke-width="1.5" />
<path d="M737.3 817L732.8 825.4L737.3 823.4L741.8 825.4ZM737.3 875.8L732.8 867.4L737.3 869.4L741.8 867.4Z" fill="#231f20" stroke="#231f20" stroke-width="0.5" />
<g class="ns">
<rect x="650.0" y="1038.4" width="320.4" height="271.3" fill="#fff" stroke="#231f20" stroke-width="1.2" rx="3"/>
<circle cx="684.3" cy="1076.7" r="5.4" fill="#fff" stroke="#231f20" stroke-width="1"/>
<circle cx="936.5" cy="1076.7" r="5.4" fill="#fff" stroke="#231f20" stroke-width="1"/>
<circle cx="684.3" cy="1276.0" r="5.4" fill="#fff" stroke="#231f20" stroke-width="1"/>
<circle cx="936.5" cy="1276.0" r="5.4" fill="#fff" stroke="#231f20" stroke-width="1"/>
<circle cx="914.0" cy="1276.0" r="1.8" fill="#fff" stroke="#231f20" stroke-width="1"/>
<rect x="814.3" y="1067.1" width="106.5" height="21.4" fill="#fff" stroke="#231f20" stroke-width="1" rx="1"/>
<path d="M823.1 1080.1H894" fill="none" stroke="#231f20" stroke-width="1.1" />
<rect x="691.5" y="1076.6" width="111.4" height="138.6" fill="#d3d4d5" stroke="#231f20" stroke-width="1.15"/>
<path d="M691.5 1076.6V1215.2" fill="none" stroke="#231f20" stroke-width="1.5" />
<rect x="692.8" y="1078.3" width="108.6" height="110.3" fill="#fff" stroke="#231f20" stroke-width="1" rx="9"/>
<path d="M694 1189.6H801" fill="none" stroke="#8a8c8e" stroke-width="1" />
<circle cx="747.0" cy="1133.5" r="53.4" fill="#fff" stroke="#231f20" stroke-width="1"/>
<circle cx="747.0" cy="1133.5" r="50.4" fill="#fff" stroke="#231f20" stroke-width="1"/>
<path d="M740.4 1090.5A43.5 43.5 0 0 0 704.3 1125.2L720.3 1125.2A28 28 0 0 1 740.4 1106.3Z" fill="#fff" stroke="#231f20" stroke-width="2.2" stroke-linejoin="round"/>
<path d="M740.4 1090.5A43.5 43.5 0 0 0 704.3 1125.2L720.3 1125.2A28 28 0 0 1 740.4 1106.3Z" fill="#fff" stroke="#fff" stroke-width="0.4" stroke-linejoin="round"/>
<path d="M740.4 1176.5A43.5 43.5 0 0 1 704.3 1141.8L720.3 1141.8A28 28 0 0 0 740.4 1160.7Z" fill="#fff" stroke="#231f20" stroke-width="2.2" stroke-linejoin="round"/>
<path d="M740.4 1176.5A43.5 43.5 0 0 1 704.3 1141.8L720.3 1141.8A28 28 0 0 0 740.4 1160.7Z" fill="#fff" stroke="#fff" stroke-width="0.4" stroke-linejoin="round"/>
<path d="M753.6 1090.5A43.5 43.5 0 0 1 789.7 1125.2L773.7 1125.2A28 28 0 0 0 753.6 1106.3Z" fill="#fff" stroke="#231f20" stroke-width="2.2" stroke-linejoin="round"/>
<path d="M753.6 1090.5A43.5 43.5 0 0 1 789.7 1125.2L773.7 1125.2A28 28 0 0 0 753.6 1106.3Z" fill="#fff" stroke="#fff" stroke-width="0.4" stroke-linejoin="round"/>
<path d="M753.6 1176.5A43.5 43.5 0 0 0 789.7 1141.8L773.7 1141.8A28 28 0 0 1 753.6 1160.7Z" fill="#fff" stroke="#231f20" stroke-width="2.2" stroke-linejoin="round"/>
<path d="M753.6 1176.5A43.5 43.5 0 0 0 789.7 1141.8L773.7 1141.8A28 28 0 0 1 753.6 1160.7Z" fill="#fff" stroke="#fff" stroke-width="0.4" stroke-linejoin="round"/>
<circle cx="747.0" cy="1133.5" r="29.8" fill="#fff" stroke="#231f20" stroke-width="1"/>
<circle cx="747.0" cy="1133.5" r="26.7" fill="#fff" stroke="#231f20" stroke-width="1"/>
<path d="M710.2 1087.4L706.0 1094.6L697.8 1094.6L693.6 1087.4L697.8 1080.2L706.0 1080.2Z" fill="#fff" stroke="#231f20" stroke-width="1" />
<circle cx="701.9" cy="1087.4" r="3.2" fill="#fff" stroke="#8a8c8e" stroke-width="1"/>
<path d="M798.9 1087.4L794.8 1094.6L786.5 1094.6L782.3 1087.4L786.5 1080.2L794.8 1080.2Z" fill="#fff" stroke="#231f20" stroke-width="1" />
<circle cx="790.6" cy="1087.4" r="3.2" fill="#fff" stroke="#8a8c8e" stroke-width="1"/>
<path d="M710.2 1177.7L706.0 1184.9L697.8 1184.9L693.6 1177.7L697.8 1170.5L706.0 1170.5Z" fill="#fff" stroke="#231f20" stroke-width="1" />
<circle cx="701.9" cy="1177.7" r="3.2" fill="#fff" stroke="#8a8c8e" stroke-width="1"/>
<path d="M729 1165.5Q747 1160.5 765 1165.5L766 1173.5Q747 1180.5 728 1173.5Z" fill="#fff" stroke="#231f20" stroke-width="1" />
<path d="M731 1166.5Q747 1162.5 763 1166.5" fill="none" stroke="#231f20" stroke-width="0.8" />
<path d="M729 1175Q747 1182 765 1175" fill="none" stroke="#231f20" stroke-width="0.8" />
<circle cx="724.9" cy="1164.0" r="2.2" fill="#fff" stroke="#231f20" stroke-width="0.9"/>
<circle cx="768.4" cy="1164.0" r="2.2" fill="#fff" stroke="#231f20" stroke-width="0.9"/>
<circle cx="746.9" cy="1171.1" r="2.3" fill="#8a8c8e" stroke="#231f20" stroke-width="1.4"/>
<path d="M753.8 1170H758.8M756.3 1167.5V1172.5" fill="none" stroke="#231f20" stroke-width="0.9" />
<path d="M729 1166.5Q735.5 1166 736.3 1170.5V1173M729.5 1170Q731 1175 736 1174.5" fill="none" stroke="#231f20" stroke-width="0.9" />
<path d="M764.5 1166Q759.5 1165.5 759.5 1169.5Q760 1173 764 1172" fill="none" stroke="#231f20" stroke-width="0.9" />
<path d="M724.9 1164L777.4 1202.2" fill="none" stroke="#231f20" stroke-width="1.6" />
<path d="M768.4 1164L777.4 1195.7" fill="none" stroke="#231f20" stroke-width="1.3" />
<path d="M729.4 1197.3C738 1194 744 1196 749 1198.2L777.4 1209.6" fill="none" stroke="#231f20" stroke-width="1.45" />
<path d="M730.6 1201C740 1197.5 746 1200 753.1 1203.1L777.4 1211.6" fill="none" stroke="#231f20" stroke-width="1.45" />
<circle cx="722.7" cy="1203.1" r="7.2" fill="#d3d4d5" stroke="#231f20" stroke-width="2.9"/>
<circle cx="720.3" cy="1203.6" r="1.2" fill="#fff" stroke="#231f20" stroke-width="0.8"/>
<circle cx="725.1" cy="1203.6" r="1.2" fill="#fff" stroke="#231f20" stroke-width="0.8"/>
<path d="M719.5 1204.5L725.8 1201.3" fill="none" stroke="#231f20" stroke-width="0.8" />
<rect x="754.5" y="1215.7" width="63.0" height="64.8" fill="#fff" stroke="#231f20" stroke-width="1"/>
<rect x="757.3" y="1221.6" width="41.4" height="52.2" fill="#fff" stroke="#231f20" stroke-width="1"/>
<path d="M759.3 1221.6V1269.3H797" fill="none" stroke="#8a8c8e" stroke-width="1" />
<rect x="761.4" y="1221.6" width="34.3" height="43.7" fill="#fff" stroke="#231f20" stroke-width="1"/>
<path d="M757.5 1225V1262" fill="none" stroke="#231f20" stroke-width="0.9" />
<rect x="758.0" y="1240.0" width="2.2" height="10.0" fill="#d3d4d5" stroke="#231f20" stroke-width="0.8" rx="1"/>
<path d="M685.5 1234.5C700 1221 722 1216.8 736 1216.5L777 1215.8" fill="none" stroke="#231f20" stroke-width="1.4" />
<path d="M695.5 1236C706 1225.5 722 1220 736 1219L777 1217.6" fill="none" stroke="#231f20" stroke-width="1.4" />
<path d="M723.4 1241C724.5 1229 736 1221.5 757 1218.2L777 1218.8" fill="none" stroke="#231f20" stroke-width="1.25" />
<path d="M733.6 1241C735 1229 746 1222.8 760 1219.6L777 1220" fill="none" stroke="#231f20" stroke-width="1.25" />
<path d="M756 1216.3H777.4M762 1218.6H777.4" fill="none" stroke="#231f20" stroke-width="1.3" />
<circle cx="691.2" cy="1243.0" r="8.4" fill="#fff" stroke="#231f20" stroke-width="3.6"/>
<circle cx="688.0" cy="1242.0" r="1.5" fill="#231f20" stroke="#231f20" stroke-width="0.5"/>
<circle cx="694.4" cy="1242.0" r="1.5" fill="#231f20" stroke="#231f20" stroke-width="0.5"/>
<path d="M688 1242V1246M694.4 1242V1246" fill="none" stroke="#231f20" stroke-width="1.2" />
<path d="M753.0 1243.4L741.0 1264.2L717.0 1264.2L705.0 1243.4L717.0 1222.6L741.0 1222.6Z" fill="#fff" stroke="#231f20" stroke-width="1" />
<circle cx="729.0" cy="1243.4" r="17.0" fill="#fff" stroke="#8a8c8e" stroke-width="1"/>
<circle cx="729.0" cy="1243.4" r="15.6" fill="#fff" stroke="#231f20" stroke-width="1"/>
<circle cx="729.0" cy="1243.4" r="14.4" fill="#fff" stroke="#8a8c8e" stroke-width="0.8"/>
<path d="M722.3 1255.6V1240.5Q723.4 1239 724.5 1240.5V1255.6Z" fill="#fff" stroke="#8a8c8e" stroke-width="0.9" />
<path d="M732.5 1255.6V1240.5Q733.6 1239 734.7 1240.5V1255.6Z" fill="#fff" stroke="#8a8c8e" stroke-width="0.9" />
<path d="M723.4 1241C724.5 1229 736 1221.5 757 1218.2" fill="none" stroke="#231f20" stroke-width="1.25" />
<path d="M733.6 1241C735 1229 746 1222.8 760 1219.6" fill="none" stroke="#231f20" stroke-width="1.25" />
<rect x="767.7" y="1250.3" width="17.9" height="7.2" fill="#fff" stroke="#231f20" stroke-width="1"/>
<rect x="767.7" y="1250.3" width="9.7" height="7.2" fill="#231f20" stroke="#231f20" stroke-width="1"/>
<path d="M770.5 1251.5V1256.5M773.5 1251.5V1256.5" fill="none" stroke="#d3d4d5" stroke-width="1.2" />
<circle cx="773.8" cy="1261.6" r="3.6" fill="#fff" stroke="#231f20" stroke-width="0.9"/>
<circle cx="773.8" cy="1261.6" r="1.6" fill="#fff" stroke="#231f20" stroke-width="0.8"/>
<path d="M816.6 1261.9L814.1 1266.2L809.1 1266.2L806.6 1261.9L809.1 1257.6L814.1 1257.6Z" fill="#fff" stroke="#231f20" stroke-width="1" />
<circle cx="811.6" cy="1261.9" r="1.7" fill="#fff" stroke="#231f20" stroke-width="1.2"/>
<rect x="777.6" y="1091.4" width="163.0" height="163.0" fill="#fff" stroke="#231f20" stroke-width="1.2"/>
<rect x="797.3" y="1103.4" width="4.4" height="8.9" fill="#fff" stroke="#231f20" stroke-width="1"/>
<rect x="813.3" y="1100.3" width="9.2" height="4.3" fill="#fff" stroke="#231f20" stroke-width="1"/>
<rect x="828.4" y="1099.5" width="30.2" height="29.6" fill="#fff" stroke="#231f20" stroke-width="1"/>
<rect x="823.5" y="1107.9" width="39.2" height="11.8" fill="#fff" stroke="#8a8c8e" stroke-width="1.5" rx="1"/>
<circle cx="812.0" cy="1114.8" r="5.8" fill="#fff" stroke="#231f20" stroke-width="1"/>
<path d="M809.4 1114.8L812.0 1112.2L814.6 1114.8L812.0 1117.4Z" fill="#fff" stroke="#231f20" stroke-width="0.9" />
<rect x="786.3" y="1116.2" width="11.3" height="17.5" fill="#fff" stroke="#231f20" stroke-width="1"/>
<path d="M789.5 1117.2H794.5" fill="none" stroke="#8a8c8e" stroke-width="1.2" />
<circle cx="809.0" cy="1132.3" r="2.9" fill="#fff" stroke="#231f20" stroke-width="1"/>
<rect x="816.4" y="1122.4" width="10.3" height="4.4" fill="#fff" stroke="#8a8c8e" stroke-width="1"/>
<rect x="818.6" y="1127.4" width="6.9" height="4.1" fill="#fff" stroke="#231f20" stroke-width="1"/>
<rect x="781.4" y="1141.3" width="17.2" height="11.5" fill="#fff" stroke="#8a8c8e" stroke-width="1.4"/>
<path d="M796.3 1141.3V1152.8" fill="none" stroke="#8a8c8e" stroke-width="1.1" />
<path d="M786.4 1151.6h2.2M791.9 1151.6h2.2" fill="none" stroke="#231f20" stroke-width="1.0" />
<rect x="800.4" y="1141.3" width="18.2" height="11.5" fill="#fff" stroke="#8a8c8e" stroke-width="1.4"/>
<path d="M816.3 1141.3V1152.8" fill="none" stroke="#8a8c8e" stroke-width="1.1" />
<path d="M805.4 1151.6h2.2M810.9 1151.6h2.2" fill="none" stroke="#231f20" stroke-width="1.0" />
<path d="M800.4 1141.3H818.6" fill="none" stroke="#231f20" stroke-width="1" />
<path d="M820.4 1131.9H834.3Q837.8 1131.9 837.8 1135.4V1141.9Q837.8 1145.4 834.3 1145.4H820.4Z" fill="#fff" stroke="#8a8c8e" stroke-width="1.4" />
<path d="M822.5 1137.6H824.7" fill="none" stroke="#231f20" stroke-width="0.9" />
<path d="M832.1 1137.6H834.9M833.5 1136.2V1139.0" fill="none" stroke="#231f20" stroke-width="1.1" />
<rect x="838.6" y="1131.5" width="3.9" height="9.0" fill="#fff" stroke="#231f20" stroke-width="1"/>
<path d="M844.3 1132.3H858.2V1145.5Q858.2 1150.3 853.5 1150.3H849Q844.3 1150.3 844.3 1145.5Z" fill="#fff" stroke="#8a8c8e" stroke-width="1.4" />
<path d="M849.9 1135.5H852.1" fill="none" stroke="#231f20" stroke-width="0.9" />
<path d="M850.3 1147.4H852.9M851.6 1146.1V1148.7" fill="none" stroke="#231f20" stroke-width="1.1" />
<rect x="820.6" y="1146.6" width="8.8" height="4.1" fill="#fff" stroke="#231f20" stroke-width="1"/>
<rect x="831.6" y="1146.6" width="10.9" height="4.1" fill="#fff" stroke="#8a8c8e" stroke-width="1"/>
<rect x="859.8" y="1127.4" width="3.6" height="9.8" fill="#fff" stroke="#231f20" stroke-width="1"/>
<rect x="859.8" y="1139.3" width="3.6" height="9.0" fill="#fff" stroke="#231f20" stroke-width="1"/>
<rect x="865.6" y="1127.4" width="3.8" height="9.8" fill="#fff" stroke="#231f20" stroke-width="1"/>
<rect x="865.6" y="1139.3" width="3.8" height="9.0" fill="#fff" stroke="#231f20" stroke-width="1"/>
<rect x="871.4" y="1127.4" width="4.1" height="9.8" fill="#fff" stroke="#231f20" stroke-width="1"/>
<rect x="871.4" y="1139.3" width="4.1" height="9.0" fill="#fff" stroke="#231f20" stroke-width="1"/>
<rect x="867.5" y="1097.4" width="9.2" height="4.3" fill="#fff" stroke="#231f20" stroke-width="1"/>
<rect x="868.2" y="1104.4" width="6.2" height="6.2" fill="#fff" stroke="#231f20" stroke-width="1.35"/>
<path d="M868.8 1103.6h2M868.8 1111.4h2" fill="none" stroke="#231f20" stroke-width="1.1" />
<path d="M871.9 1103.6h2M871.9 1111.4h2" fill="none" stroke="#231f20" stroke-width="1.1" />
<rect x="868.3" y="1112.6" width="9.3" height="4.1" fill="#fff" stroke="#231f20" stroke-width="1"/>
<rect x="867.5" y="1120.5" width="7.2" height="4.1" fill="#fff" stroke="#231f20" stroke-width="1"/>
<rect x="883.7" y="1100.5" width="14.0" height="14.7" fill="#fff" stroke="#8a8c8e" stroke-width="1.4"/>
<path d="M895.6 1107.6L894.1 1108.5L895.0 1109.9L893.2 1109.9L893.2 1111.7L891.8 1110.8L890.9 1112.3L890.0 1110.8L888.5 1111.7L888.6 1109.9L886.8 1109.9L887.7 1108.5L886.2 1107.6L887.7 1106.7L886.8 1105.2L888.6 1105.3L888.5 1103.5L890.0 1104.4L890.9 1102.9L891.8 1104.4L893.2 1103.5L893.2 1105.3L895.0 1105.2L894.1 1106.7Z" fill="#231f20" stroke="#231f20" stroke-width="0.6" />
<circle cx="890.9" cy="1107.6" r="1.6" fill="#fff" stroke="#231f20" stroke-width="0.6"/>
<path d="M890.9 1106.6V1099.6M889.7 1108.8L893.4 1111.4" fill="none" stroke="#231f20" stroke-width="0.9" />
<circle cx="890.9" cy="1099.4" r="0.7" fill="#231f20" stroke="#231f20" stroke-width="0.5"/>
<path d="M890.9 1111.6V1115.2" fill="none" stroke="#231f20" stroke-width="0.9" />
<path d="M884.9 1115.4l1.2 1.6l1.2 -1.6ZM894.1 1115.4l1.2 1.6l1.2 -1.6Z" fill="#231f20" stroke="#231f20" stroke-width="0.5" />
<rect x="902.3" y="1100.5" width="13.6" height="14.7" fill="#fff" stroke="#8a8c8e" stroke-width="1.4"/>
<path d="M913.7 1107.6L912.2 1108.5L913.1 1109.9L911.3 1109.9L911.4 1111.7L909.9 1110.8L909.0 1112.3L908.1 1110.8L906.6 1111.7L906.7 1109.9L904.9 1109.9L905.8 1108.5L904.3 1107.6L905.8 1106.7L904.9 1105.2L906.7 1105.3L906.6 1103.5L908.1 1104.4L909.0 1102.9L909.9 1104.4L911.4 1103.5L911.3 1105.3L913.1 1105.2L912.2 1106.7Z" fill="#231f20" stroke="#231f20" stroke-width="0.6" />
<circle cx="909.0" cy="1107.6" r="1.6" fill="#fff" stroke="#231f20" stroke-width="0.6"/>
<path d="M909.0 1106.6V1099.6M907.8 1108.8L911.5 1111.4" fill="none" stroke="#231f20" stroke-width="0.9" />
<circle cx="909.0" cy="1099.4" r="0.7" fill="#231f20" stroke="#231f20" stroke-width="0.5"/>
<path d="M909.0 1111.6V1115.2" fill="none" stroke="#231f20" stroke-width="0.9" />
<path d="M903.5 1115.4l1.2 1.6l1.2 -1.6ZM912.3 1115.4l1.2 1.6l1.2 -1.6Z" fill="#231f20" stroke="#231f20" stroke-width="0.5" />
<circle cx="933.2" cy="1115.2" r="5.8" fill="#fff" stroke="#231f20" stroke-width="1"/>
<path d="M930.6 1115.2L933.2 1112.6L935.8 1115.2L933.2 1117.8Z" fill="#fff" stroke="#231f20" stroke-width="0.9" />
<rect x="878.4" y="1122.1" width="4.0" height="9.4" fill="#fff" stroke="#231f20" stroke-width="1"/>
<rect x="884.5" y="1122.1" width="3.1" height="9.4" fill="#fff" stroke="#231f20" stroke-width="1"/>
<rect x="891.4" y="1120.4" width="6.0" height="6.6" fill="#fff" stroke="#231f20" stroke-width="1.35"/>
<path d="M891.9 1119.6h2M891.9 1127.8h2" fill="none" stroke="#231f20" stroke-width="1.1" />
<path d="M894.9 1119.6h2M894.9 1127.8h2" fill="none" stroke="#231f20" stroke-width="1.1" />
<rect x="890.6" y="1128.3" width="7.1" height="3.2" fill="#fff" stroke="#231f20" stroke-width="1"/>
<rect x="900.4" y="1123.2" width="9.0" height="3.4" fill="#fff" stroke="#231f20" stroke-width="1"/>
<rect x="911.4" y="1123.2" width="7.2" height="3.4" fill="#fff" stroke="#231f20" stroke-width="1"/>
<rect x="900.4" y="1132.3" width="18.8" height="7.0" fill="#fff" stroke="#8a8c8e" stroke-width="1.4"/>
<path d="M901.8 1134.2V1137.2" fill="none" stroke="#231f20" stroke-width="0.8" />
<rect x="920.4" y="1129.1" width="4.1" height="7.3" fill="#fff" stroke="#231f20" stroke-width="1"/>
<rect x="925.7" y="1127.3" width="3.7" height="9.1" fill="#fff" stroke="#231f20" stroke-width="1"/>
<rect x="925.7" y="1139.3" width="2.9" height="9.4" fill="#fff" stroke="#231f20" stroke-width="1"/>
<rect x="876.7" y="1136.4" width="5.7" height="13.1" fill="#fff" stroke="#231f20" stroke-width="1"/>
<rect x="885.7" y="1136.4" width="4.9" height="13.1" fill="#fff" stroke="#231f20" stroke-width="1"/>
<rect x="895.3" y="1141.3" width="4.3" height="7.4" fill="#fff" stroke="#231f20" stroke-width="1"/>
<rect x="900.4" y="1145.4" width="9.0" height="4.1" fill="#fff" stroke="#231f20" stroke-width="1"/>
<rect x="911.4" y="1145.4" width="9.2" height="4.1" fill="#fff" stroke="#231f20" stroke-width="1"/>
<path d="M868.6 1151.5H877Q881.6 1152.5 881.6 1156Q881.6 1159.5 877 1160.5H868.6Z" fill="#fff" stroke="#8a8c8e" stroke-width="1.4" />
<path d="M869 1156H871" fill="none" stroke="#231f20" stroke-width="0.8" />
<rect x="883.5" y="1150.3" width="3.8" height="10.2" fill="#fff" stroke="#231f20" stroke-width="1"/>
<rect x="890.4" y="1153.4" width="7.3" height="3.0" fill="#fff" stroke="#231f20" stroke-width="1"/>
<rect x="890.4" y="1158.1" width="4.0" height="9.3" fill="#fff" stroke="#231f20" stroke-width="1"/>
<rect x="896.7" y="1158.1" width="3.7" height="9.3" fill="#fff" stroke="#231f20" stroke-width="1"/>
<rect x="860.0" y="1152.3" width="3.4" height="9.0" fill="#fff" stroke="#231f20" stroke-width="1"/>
<rect x="852.4" y="1152.3" width="4.1" height="9.0" fill="#fff" stroke="#231f20" stroke-width="1"/>
<rect x="850.4" y="1164.6" width="9.0" height="3.7" fill="#fff" stroke="#231f20" stroke-width="1"/>
<rect x="861.4" y="1165.4" width="7.1" height="3.0" fill="#fff" stroke="#231f20" stroke-width="1"/>
<rect x="853.3" y="1170.3" width="7.1" height="3.0" fill="#fff" stroke="#231f20" stroke-width="1"/>
<rect x="849.6" y="1175.6" width="6.9" height="2.9" fill="#fff" stroke="#231f20" stroke-width="1"/>
<rect x="860.2" y="1175.6" width="9.6" height="3.7" fill="#fff" stroke="#231f20" stroke-width="1"/>
<path d="M875.3 1165.4H879.4L882.7 1169.3V1180.1H871.4V1169.3Z" fill="#fff" stroke="#8a8c8e" stroke-width="1.4" />
<path d="M875.8 1167.8H877.8M876.8 1166.8V1168.8" fill="none" stroke="#231f20" stroke-width="0.8" />
<path d="M876.0 1178.3H878.0" fill="none" stroke="#231f20" stroke-width="0.8" />
<path d="M821.3 1152.8H840.2L846.7 1159.3V1166.6L840.2 1173.6H821.3Z" fill="#fff" stroke="#8a8c8e" stroke-width="1.4" />
<circle cx="833.3" cy="1163.2" r="10.5" fill="#fff" stroke="#231f20" stroke-width="1"/>
<path d="M823.8 1163.4H828.0" fill="none" stroke="#231f20" stroke-width="1.0" />
<path d="M838.1 1163.8H841.5M839.8 1162.1V1165.5" fill="none" stroke="#231f20" stroke-width="1.5" />
<path d="M821.3 1173.6H840.2L846.7 1180.4V1188.6L840.2 1195.4H821.3Z" fill="#fff" stroke="#8a8c8e" stroke-width="1.4" />
<circle cx="833.3" cy="1185.2" r="10.3" fill="#fff" stroke="#231f20" stroke-width="1"/>
<path d="M824.6 1185.4H828.6" fill="none" stroke="#231f20" stroke-width="1.0" />
<path d="M837.9 1185.4H841.3M839.6 1183.7V1187.1" fill="none" stroke="#231f20" stroke-width="1.2" />
<rect x="802.0" y="1160.3" width="6.6" height="5.7" fill="#fff" stroke="#231f20" stroke-width="1.35"/>
<path d="M802.6 1159.5h2M802.6 1166.8h2" fill="none" stroke="#231f20" stroke-width="1.1" />
<path d="M806.0 1159.5h2M806.0 1166.8h2" fill="none" stroke="#231f20" stroke-width="1.1" />
<rect x="811.3" y="1160.3" width="5.6" height="5.7" fill="#fff" stroke="#231f20" stroke-width="1.35"/>
<path d="M811.7 1159.5h2M811.7 1166.8h2" fill="none" stroke="#231f20" stroke-width="1.1" />
<path d="M814.5 1159.5h2M814.5 1166.8h2" fill="none" stroke="#231f20" stroke-width="1.1" />
<rect x="781.4" y="1168.3" width="4.1" height="10.2" fill="#fff" stroke="#231f20" stroke-width="1"/>
<rect x="789.4" y="1166.5" width="8.2" height="12.8" fill="#fff" stroke="#231f20" stroke-width="1"/>
<rect x="801.4" y="1168.3" width="3.9" height="10.2" fill="#fff" stroke="#231f20" stroke-width="1"/>
<rect x="806.7" y="1169.5" width="10.6" height="4.9" fill="#fff" stroke="#8a8c8e" stroke-width="1.3"/>
<rect x="807.7" y="1176.4" width="13.1" height="6.2" fill="#fff" stroke="#231f20" stroke-width="1"/>
<rect x="785.1" y="1183.2" width="11.2" height="4.0" fill="#fff" stroke="#8a8c8e" stroke-width="1.3"/>
<rect x="783.5" y="1189.3" width="14.1" height="21.4" fill="#fff" stroke="#231f20" stroke-width="1"/>
<rect x="802.0" y="1184.2" width="5.6" height="5.4" fill="#fff" stroke="#231f20" stroke-width="1.35"/>
<path d="M802.4 1183.4h2M802.4 1190.4h2" fill="none" stroke="#231f20" stroke-width="1.1" />
<path d="M805.2 1183.4h2M805.2 1190.4h2" fill="none" stroke="#231f20" stroke-width="1.1" />
<rect x="810.4" y="1186.0" width="9.2" height="3.7" fill="#fff" stroke="#231f20" stroke-width="1"/>
<path d="M806 1190.9H819.6V1204.8H806L802.7 1201.5V1194.2Z" fill="#fff" stroke="#8a8c8e" stroke-width="1.4" />
<path d="M804.2 1198.4H806.2" fill="none" stroke="#231f20" stroke-width="0.8" />
<path d="M817 1198.4h1.6" fill="none" stroke="#8a8c8e" stroke-width="0.9" />
<rect x="822.2" y="1198.3" width="9.0" height="4.3" fill="#fff" stroke="#231f20" stroke-width="1"/>
<rect x="832.4" y="1198.3" width="10.1" height="4.3" fill="#fff" stroke="#231f20" stroke-width="1"/>
<rect x="843.5" y="1198.3" width="7.3" height="4.3" fill="#fff" stroke="#231f20" stroke-width="1"/>
<rect x="821.6" y="1206.3" width="6.0" height="4.9" fill="#fff" stroke="#231f20" stroke-width="1.35"/>
<path d="M822.1 1205.5h2M822.1 1212.0h2" fill="none" stroke="#231f20" stroke-width="1.1" />
<path d="M825.1 1205.5h2M825.1 1212.0h2" fill="none" stroke="#231f20" stroke-width="1.1" />
<rect x="829.3" y="1206.3" width="5.6" height="4.9" fill="#fff" stroke="#231f20" stroke-width="1.35"/>
<path d="M829.7 1205.5h2M829.7 1212.0h2" fill="none" stroke="#231f20" stroke-width="1.1" />
<path d="M832.5 1205.5h2M832.5 1212.0h2" fill="none" stroke="#231f20" stroke-width="1.1" />
<rect x="839.4" y="1204.4" width="4.1" height="9.0" fill="#fff" stroke="#231f20" stroke-width="1"/>
<path d="M845.5 1203.6H854.5V1211.5Q854.5 1216.2 850 1216.2Q845.5 1216.2 845.5 1211.5Z" fill="#fff" stroke="#8a8c8e" stroke-width="1.3" />
<path d="M849 1206h2.5" fill="none" stroke="#8a8c8e" stroke-width="0.8" />
<path d="M849.1 1213.2H850.9M850.0 1212.3V1214.1" fill="none" stroke="#231f20" stroke-width="0.8" />
<rect x="856.5" y="1203.4" width="4.1" height="9.0" fill="#fff" stroke="#231f20" stroke-width="1"/>
<rect x="856.7" y="1214.6" width="3.1" height="6.9" fill="#fff" stroke="#231f20" stroke-width="1"/>
<circle cx="812.0" cy="1214.0" r="5.8" fill="#fff" stroke="#231f20" stroke-width="1"/>
<path d="M809.4 1214.0L812.0 1211.4L814.6 1214.0L812.0 1216.6Z" fill="#fff" stroke="#231f20" stroke-width="0.9" />
<rect x="821.6" y="1215.4" width="3.9" height="9.0" fill="#fff" stroke="#231f20" stroke-width="1"/>
<rect x="826.3" y="1215.4" width="4.1" height="6.9" fill="#fff" stroke="#231f20" stroke-width="1"/>
<rect x="831.6" y="1215.4" width="2.9" height="9.0" fill="#fff" stroke="#231f20" stroke-width="1"/>
<rect x="836.5" y="1214.6" width="3.7" height="9.8" fill="#fff" stroke="#231f20" stroke-width="1"/>
<rect x="841.7" y="1215.4" width="3.6" height="9.0" fill="#fff" stroke="#231f20" stroke-width="1"/>
<rect x="846.7" y="1217.4" width="6.7" height="4.1" fill="#fff" stroke="#231f20" stroke-width="1"/>
<rect x="831.6" y="1225.6" width="8.8" height="3.9" fill="#fff" stroke="#231f20" stroke-width="1"/>
<path d="M848.5 1223.6H860.4V1233.9H848.5L845.3 1230.8V1226.5Z" fill="#fff" stroke="#8a8c8e" stroke-width="1.4" />
<path d="M846.3 1228.6H848.3" fill="none" stroke="#231f20" stroke-width="0.8" />
<path d="M857.5 1228.6H859.5" fill="none" stroke="#231f20" stroke-width="0.8" />
<rect x="780.4" y="1223.6" width="8.0" height="13.8" fill="#fff" stroke="#231f20" stroke-width="1"/>
<rect x="789.4" y="1223.6" width="14.2" height="7.7" fill="#fff" stroke="#231f20" stroke-width="1"/>
<rect x="805.5" y="1226.4" width="9.8" height="3.9" fill="#fff" stroke="#231f20" stroke-width="1"/>
<rect x="817.2" y="1225.6" width="10.4" height="4.5" fill="#fff" stroke="#8a8c8e" stroke-width="1.3"/>
<path d="M795.70 1233.6V1237.4M795.70 1246.8V1255.2" fill="none" stroke="#231f20" stroke-width="1.9" />
<path d="M797.60 1246.8V1254.4" fill="none" stroke="#231f20" stroke-width="0.6" />
<path d="M799.75 1233.6V1237.4M799.75 1246.8V1255.2" fill="none" stroke="#231f20" stroke-width="1.9" />
<path d="M801.65 1246.8V1254.4" fill="none" stroke="#231f20" stroke-width="0.6" />
<path d="M803.80 1233.6V1237.4M803.80 1246.8V1255.2" fill="none" stroke="#231f20" stroke-width="1.9" />
<path d="M805.70 1246.8V1254.4" fill="none" stroke="#231f20" stroke-width="0.6" />
<path d="M807.85 1233.6V1237.4M807.85 1246.8V1255.2" fill="none" stroke="#231f20" stroke-width="1.9" />
<path d="M809.75 1246.8V1254.4" fill="none" stroke="#231f20" stroke-width="0.6" />
<path d="M811.90 1233.6V1237.4M811.90 1246.8V1255.2" fill="none" stroke="#231f20" stroke-width="1.9" />
<path d="M813.80 1246.8V1254.4" fill="none" stroke="#231f20" stroke-width="0.6" />
<path d="M815.95 1233.6V1237.4M815.95 1246.8V1255.2" fill="none" stroke="#231f20" stroke-width="1.9" />
<path d="M817.85 1246.8V1254.4" fill="none" stroke="#231f20" stroke-width="0.6" />
<path d="M820.00 1233.6V1237.4M820.00 1246.8V1255.2" fill="none" stroke="#231f20" stroke-width="1.9" />
<path d="M821.90 1246.8V1254.4" fill="none" stroke="#231f20" stroke-width="0.6" />
<path d="M824.05 1233.6V1237.4M824.05 1246.8V1255.2" fill="none" stroke="#231f20" stroke-width="1.9" />
<path d="M825.95 1246.8V1254.4" fill="none" stroke="#231f20" stroke-width="0.6" />
<path d="M828.10 1233.6V1237.4M828.10 1246.8V1255.2" fill="none" stroke="#231f20" stroke-width="1.9" />
<path d="M830.00 1246.8V1254.4" fill="none" stroke="#231f20" stroke-width="0.6" />
<path d="M832.15 1233.6V1237.4M832.15 1246.8V1255.2" fill="none" stroke="#231f20" stroke-width="1.9" />
<path d="M834.05 1246.8V1254.4" fill="none" stroke="#231f20" stroke-width="0.6" />
<rect x="790.8" y="1238.0" width="46.4" height="8.2" fill="#fff" stroke="#231f20" stroke-width="1.8"/>
<rect x="794.0" y="1239.6" width="40.0" height="1.6" fill="#fff" stroke="#231f20" stroke-width="0.6"/>
<path d="M792.2 1238.5V1245.8M835.8 1238.5V1245.8" fill="none" stroke="#8a8c8e" stroke-width="1.6" />
<rect x="843.5" y="1235.4" width="8.1" height="13.1" fill="#fff" stroke="#231f20" stroke-width="1"/>
<rect x="855.3" y="1241.1" width="37.8" height="16.3" fill="#fff" stroke="#231f20" stroke-width="1.2"/>
<path d="M853.6 1246V1240H893.1" fill="none" stroke="#8a8c8e" stroke-width="1.2" />
<rect x="853.8" y="1239.6" width="39.3" height="1.7" fill="#fff" stroke="#8a8c8e" stroke-width="0.9"/>
<path d="M861 1238.6v1" fill="none" stroke="#231f20" stroke-width="1.6" />
<path d="M871 1238.6v1" fill="none" stroke="#231f20" stroke-width="1.6" />
<path d="M881 1238.6v1" fill="none" stroke="#231f20" stroke-width="1.6" />
<path d="M890 1238.6v1" fill="none" stroke="#231f20" stroke-width="1.6" />
<path d="M863.3 1182.3Q868 1178 872.7 1182.3V1195.4H863.3Z" fill="#fff" stroke="#8a8c8e" stroke-width="1.4" />
<path d="M867.3 1184.6H869.5M868.4 1183.5V1185.7" fill="none" stroke="#231f20" stroke-width="0.9" />
<path d="M867 1193.5h2.6" fill="none" stroke="#8a8c8e" stroke-width="0.8" />
<rect x="850.4" y="1184.4" width="11.0" height="6.5" fill="#fff" stroke="#8a8c8e" stroke-width="1.4" rx="1"/>
<path d="M859.8 1186v3.4" fill="none" stroke="#8a8c8e" stroke-width="0.9" />
<rect x="874.7" y="1183.6" width="9.0" height="2.8" fill="#fff" stroke="#231f20" stroke-width="1"/>
<path d="M876.5 1188.1H880L882 1191.5L880 1195H876.5L874.3 1191.5Z" fill="#fff" stroke="#8a8c8e" stroke-width="1.4" />
<path d="M874 1191.5h-0.8M882.3 1191.5h0.8" fill="none" stroke="#231f20" stroke-width="1.4" />
<path d="M884.5 1171.7H905.3V1190.9L900 1196.6H890.2L884.5 1190.5Z" fill="#fff" stroke="#8a8c8e" stroke-width="1.3" />
<circle cx="895.1" cy="1183.2" r="9.0" fill="#fff" stroke="#231f20" stroke-width="1"/>
<path d="M894.3 1190.1H896.7M895.5 1188.9V1191.3" fill="none" stroke="#231f20" stroke-width="0.9" />
<rect x="887.3" y="1200.1" width="7.4" height="3.5" fill="#fff" stroke="#231f20" stroke-width="1"/>
<rect x="900.4" y="1199.3" width="10.0" height="4.3" fill="#fff" stroke="#231f20" stroke-width="1"/>
<rect x="904.5" y="1204.6" width="9.0" height="3.7" fill="#fff" stroke="#231f20" stroke-width="1"/>
<rect x="861.8" y="1204.4" width="9.6" height="26.9" fill="#fff" stroke="#231f20" stroke-width="1"/>
<rect x="878.4" y="1205.2" width="15.1" height="25.3" fill="#fff" stroke="#231f20" stroke-width="1"/>
<path d="M884.5 1206h3" fill="none" stroke="#8a8c8e" stroke-width="1.2" />
<rect x="903.3" y="1210.3" width="4.0" height="11.2" fill="#fff" stroke="#8a8c8e" stroke-width="1"/>
<rect x="909.4" y="1211.3" width="2.8" height="9.8" fill="#fff" stroke="#231f20" stroke-width="1"/>
<rect x="914.5" y="1211.3" width="4.1" height="9.0" fill="#fff" stroke="#231f20" stroke-width="1"/>
<rect x="924.5" y="1205.6" width="15.9" height="15.9" fill="#b1b3b6" stroke="#231f20" stroke-width="1.1"/>
<circle cx="933.1" cy="1213.4" r="5.5" fill="#fff" stroke="#231f20" stroke-width="1"/>
<path d="M930.3 1213.4L933.1 1210.6L935.9 1213.4L933.1 1216.2Z" fill="#fff" stroke="#231f20" stroke-width="0.9" />
<circle cx="921.2" cy="1207.8" r="1.5" fill="#fff" stroke="#231f20" stroke-width="0.8"/>
<path d="M922.2 1212.0H923.8M923.0 1211.2V1212.8" fill="none" stroke="#231f20" stroke-width="0.7" />
<rect x="905.3" y="1222.8" width="4.1" height="10.6" fill="#fff" stroke="#8a8c8e" stroke-width="1"/>
<rect x="910.2" y="1224.4" width="4.3" height="9.0" fill="#fff" stroke="#231f20" stroke-width="1"/>
<rect x="916.3" y="1224.4" width="3.3" height="9.0" fill="#fff" stroke="#231f20" stroke-width="1"/>
<rect x="921.6" y="1223.6" width="4.1" height="10.6" fill="#fff" stroke="#231f20" stroke-width="1"/>
<path d="M922 1223.3h3.3" fill="none" stroke="#8a8c8e" stroke-width="0.9" />
<rect x="927.6" y="1225.6" width="4.2" height="8.6" fill="#fff" stroke="#231f20" stroke-width="1"/>
<rect x="932.5" y="1225.6" width="4.2" height="8.6" fill="#fff" stroke="#231f20" stroke-width="1"/>
<rect x="897.4" y="1237.4" width="3.3" height="10.1" fill="#fff" stroke="#231f20" stroke-width="1"/>
<rect x="902.0" y="1237.4" width="4.5" height="11.1" fill="#fff" stroke="#8a8c8e" stroke-width="1"/>
<rect x="907.3" y="1238.7" width="4.1" height="8.8" fill="#fff" stroke="#231f20" stroke-width="1"/>
<rect x="912.2" y="1237.4" width="4.5" height="11.1" fill="#fff" stroke="#8a8c8e" stroke-width="1"/>
<rect x="917.6" y="1238.7" width="4.0" height="8.8" fill="#fff" stroke="#231f20" stroke-width="1"/>
<rect x="923.0" y="1237.4" width="4.5" height="11.1" fill="#fff" stroke="#8a8c8e" stroke-width="1"/>
<rect x="928.2" y="1237.4" width="4.5" height="11.1" fill="#fff" stroke="#8a8c8e" stroke-width="1"/>
<path d="M910.9 1156.9H914.3M927.6 1156.9H930.8" fill="none" stroke="#231f20" stroke-width="0.8" />
<path d="M910.7 1156.9h0.9M929.5 1156.9h0.9" fill="none" stroke="#231f20" stroke-width="1.8" stroke-linecap="round"/>
<path d="M910.9 1161.3H914.3M927.6 1161.3H930.8" fill="none" stroke="#231f20" stroke-width="0.8" />
<path d="M910.7 1161.3h0.9M929.5 1161.3h0.9" fill="none" stroke="#231f20" stroke-width="1.8" stroke-linecap="round"/>
<path d="M910.9 1166.2H914.3M927.6 1166.2H930.8" fill="none" stroke="#231f20" stroke-width="0.8" />
<path d="M910.7 1166.2h0.9M929.5 1166.2h0.9" fill="none" stroke="#231f20" stroke-width="1.8" stroke-linecap="round"/>
<path d="M910.9 1171.1H914.3M927.6 1171.1H930.8" fill="none" stroke="#231f20" stroke-width="0.8" />
<path d="M910.7 1171.1h0.9M929.5 1171.1h0.9" fill="none" stroke="#231f20" stroke-width="1.8" stroke-linecap="round"/>
<rect x="914.3" y="1153.2" width="13.3" height="20.6" fill="#fff" stroke="#231f20" stroke-width="1.2"/>
<rect x="917.3" y="1155.3" width="7.6" height="2.4" fill="#231f20" stroke="#231f20" stroke-width="0.3"/>
<rect x="918.2" y="1156.0" width="3.3" height="1.1" fill="#fff" stroke="none" stroke-width="0"/>
<rect x="923.2" y="1156.0" width="0.9" height="1.1" fill="#fff" stroke="none" stroke-width="0"/>
<rect x="917.3" y="1159.7" width="7.6" height="2.4" fill="#231f20" stroke="#231f20" stroke-width="0.3"/>
<rect x="918.2" y="1160.3" width="3.3" height="1.1" fill="#fff" stroke="none" stroke-width="0"/>
<rect x="923.2" y="1160.3" width="0.9" height="1.1" fill="#fff" stroke="none" stroke-width="0"/>
<rect x="917.3" y="1164.6" width="7.6" height="2.4" fill="#231f20" stroke="#231f20" stroke-width="0.3"/>
<rect x="918.2" y="1165.2" width="3.3" height="1.1" fill="#fff" stroke="none" stroke-width="0"/>
<rect x="923.2" y="1165.2" width="0.9" height="1.1" fill="#fff" stroke="none" stroke-width="0"/>
<rect x="917.3" y="1169.5" width="7.6" height="2.4" fill="#231f20" stroke="#231f20" stroke-width="0.3"/>
<rect x="918.2" y="1170.1" width="3.3" height="1.1" fill="#fff" stroke="none" stroke-width="0"/>
<rect x="923.2" y="1170.1" width="0.9" height="1.1" fill="#fff" stroke="none" stroke-width="0"/>
<path d="M910.9 1181.3H914.3M927.6 1181.3H930.8" fill="none" stroke="#231f20" stroke-width="0.8" />
<path d="M910.7 1181.3h0.9M929.5 1181.3h0.9" fill="none" stroke="#231f20" stroke-width="1.8" stroke-linecap="round"/>
<path d="M910.9 1186.3H914.3M927.6 1186.3H930.8" fill="none" stroke="#231f20" stroke-width="0.8" />
<path d="M910.7 1186.3h0.9M929.5 1186.3h0.9" fill="none" stroke="#231f20" stroke-width="1.8" stroke-linecap="round"/>
<path d="M910.9 1190.9H914.3M927.6 1190.9H930.8" fill="none" stroke="#231f20" stroke-width="0.8" />
<path d="M910.7 1190.9h0.9M929.5 1190.9h0.9" fill="none" stroke="#231f20" stroke-width="1.8" stroke-linecap="round"/>
<path d="M910.9 1195.8H914.3M927.6 1195.8H930.8" fill="none" stroke="#231f20" stroke-width="0.8" />
<path d="M910.7 1195.8h0.9M929.5 1195.8h0.9" fill="none" stroke="#231f20" stroke-width="1.8" stroke-linecap="round"/>
<rect x="914.3" y="1178.2" width="13.3" height="20.3" fill="#fff" stroke="#231f20" stroke-width="1.2"/>
<rect x="917.3" y="1179.2" width="7.6" height="3.4" fill="#231f20" stroke="#231f20" stroke-width="0.3"/>
<rect x="918.0" y="1179.9" width="3.1" height="2.0" fill="#fff" stroke="none" stroke-width="0"/>
<rect x="917.3" y="1184.2" width="7.6" height="3.4" fill="#231f20" stroke="#231f20" stroke-width="0.3"/>
<rect x="918.0" y="1184.9" width="3.1" height="2.0" fill="#fff" stroke="none" stroke-width="0"/>
<rect x="917.3" y="1189.2" width="7.6" height="2.7" fill="#231f20" stroke="#231f20" stroke-width="0.3"/>
<rect x="918.0" y="1189.9" width="3.1" height="1.3" fill="#fff" stroke="none" stroke-width="0"/>
<rect x="917.3" y="1194.2" width="7.6" height="2.4" fill="#231f20" stroke="#231f20" stroke-width="0.3"/>
<rect x="918.2" y="1194.8" width="3.3" height="1.1" fill="#fff" stroke="none" stroke-width="0"/>
<rect x="923.2" y="1194.8" width="0.9" height="1.1" fill="#fff" stroke="none" stroke-width="0"/>
</g>
<ellipse cx="920.6" cy="1176.5" rx="23.5" ry="34" fill="none" stroke="#231f20" stroke-width="1.3"/>
<path d="M917.5 1142 L1014.4 1063.4" fill="none" stroke="#231f20" stroke-width="1.45" stroke-dasharray="1.4 1.67"/>
<path d="M922.5 1210.6 L1027 1264.5" fill="none" stroke="#231f20" stroke-width="1.45" stroke-dasharray="1.4 1.67"/>
<ellipse cx="1054.3" cy="1158.4" rx="69" ry="115.4" fill="#fff" stroke="#231f20" stroke-width="1.4"/>
<rect x="1030.2" y="1067.3" width="45.4" height="67.4" fill="#fff" stroke="#231f20" stroke-width="1"/>
<path d="M1030.2 1134.7V1067.3H1075.6" fill="none" stroke="#231f20" stroke-width="1.7" />
<rect x="1042.0" y="1072.2" width="22.9" height="8.4" fill="#fff" stroke="#231f20" stroke-width="1.1"/>
<rect x="1042.0" y="1072.2" width="8.4" height="8.4" fill="#231f20" stroke="#231f20" stroke-width="1.1"/>
<rect x="1044.4" y="1073.8" width="4.4" height="4.6" fill="#dcddde" stroke="#231f20" stroke-width="0.5"/>
<path d="M1042.0 1080.1H1064.9" fill="none" stroke="#231f20" stroke-width="1.8" />
<rect x="1042.0" y="1088.5" width="22.9" height="8.4" fill="#fff" stroke="#231f20" stroke-width="1.1"/>
<rect x="1042.0" y="1088.5" width="8.4" height="8.4" fill="#231f20" stroke="#231f20" stroke-width="1.1"/>
<rect x="1044.4" y="1090.1" width="4.4" height="4.6" fill="#dcddde" stroke="#231f20" stroke-width="0.5"/>
<path d="M1042.0 1096.4H1064.9" fill="none" stroke="#231f20" stroke-width="1.8" />
<rect x="1042.0" y="1105.0" width="22.9" height="8.4" fill="#fff" stroke="#231f20" stroke-width="1.1"/>
<rect x="1042.0" y="1105.0" width="8.4" height="8.4" fill="#231f20" stroke="#231f20" stroke-width="1.1"/>
<rect x="1044.4" y="1106.6" width="4.4" height="4.6" fill="#dcddde" stroke="#231f20" stroke-width="0.5"/>
<path d="M1042.0 1112.9H1064.9" fill="none" stroke="#231f20" stroke-width="1.8" />
<rect x="1042.0" y="1121.6" width="22.9" height="8.4" fill="#fff" stroke="#231f20" stroke-width="1.1"/>
<rect x="1042.0" y="1121.6" width="8.4" height="8.4" fill="#231f20" stroke="#231f20" stroke-width="1.1"/>
<rect x="1044.4" y="1123.2" width="4.4" height="4.6" fill="#dcddde" stroke="#231f20" stroke-width="0.5"/>
<path d="M1042.0 1129.5H1064.9" fill="none" stroke="#231f20" stroke-width="1.8" />
<rect x="1030.2" y="1148.2" width="45.4" height="67.1" fill="#fff" stroke="#231f20" stroke-width="1"/>
<path d="M1030.2 1215.3V1148.2H1075.6" fill="none" stroke="#231f20" stroke-width="1.7" />
<rect x="1042.0" y="1153.6" width="22.9" height="8.4" fill="#fff" stroke="#231f20" stroke-width="1.1"/>
<rect x="1056.5" y="1153.6" width="8.4" height="8.4" fill="#231f20" stroke="#231f20" stroke-width="1.1"/>
<rect x="1057.9" y="1155.4" width="4.4" height="4.6" fill="#dcddde" stroke="#231f20" stroke-width="0.5"/>
<path d="M1042.0 1161.7H1064.9" fill="none" stroke="#231f20" stroke-width="1.4" />
<rect x="1042.0" y="1170.0" width="22.9" height="8.4" fill="#fff" stroke="#231f20" stroke-width="1.1"/>
<rect x="1042.0" y="1170.0" width="8.4" height="8.4" fill="#231f20" stroke="#231f20" stroke-width="1.1"/>
<rect x="1044.4" y="1171.6" width="4.4" height="4.6" fill="#dcddde" stroke="#231f20" stroke-width="0.5"/>
<path d="M1042.0 1177.9H1064.9" fill="none" stroke="#231f20" stroke-width="1.8" />
<rect x="1042.0" y="1186.7" width="22.9" height="8.4" fill="#fff" stroke="#231f20" stroke-width="1.1"/>
<rect x="1056.5" y="1186.7" width="8.4" height="8.4" fill="#231f20" stroke="#231f20" stroke-width="1.1"/>
<rect x="1057.9" y="1188.5" width="4.4" height="4.6" fill="#dcddde" stroke="#231f20" stroke-width="0.5"/>
<path d="M1042.0 1194.8H1064.9" fill="none" stroke="#231f20" stroke-width="1.4" />
<rect x="1042.0" y="1203.1" width="22.9" height="8.4" fill="#fff" stroke="#231f20" stroke-width="1.1"/>
<rect x="1056.5" y="1203.1" width="8.4" height="8.4" fill="#231f20" stroke="#231f20" stroke-width="1.1"/>
<rect x="1057.9" y="1204.9" width="4.4" height="4.6" fill="#dcddde" stroke="#231f20" stroke-width="0.5"/>
<path d="M1042.0 1211.2H1064.9" fill="none" stroke="#231f20" stroke-width="1.4" />
<path d="M1040 1225.5H1065" fill="none" stroke="#231f20" stroke-width="1.3" />
<path d="M1033.2 1225.5L1043 1220.6L1040.6 1225.5L1043 1230.4ZM1071.4 1225.5L1061.6 1220.6L1064 1225.5L1061.6 1230.4Z" fill="#231f20" stroke="#231f20" stroke-width="0.5" />
</svg>
</body></html>
